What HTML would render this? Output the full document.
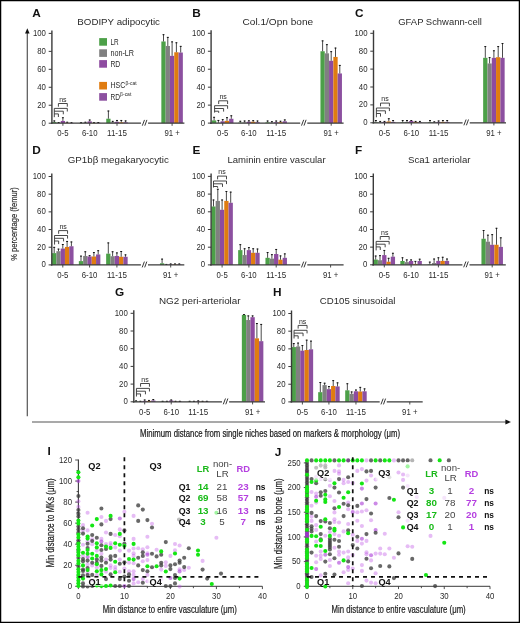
<!DOCTYPE html>
<html><head><meta charset="utf-8"><title>Figure</title>
<style>
html,body{margin:0;padding:0;background:#fff;}
body{width:520px;height:623px;overflow:hidden;}
svg{display:block;will-change:transform;}
text{font-family:"Liberation Sans", sans-serif;}
</style></head>
<body>
<svg width="520" height="623" viewBox="0 0 520 623">
<rect x="0" y="0" width="520" height="623" fill="#fff"/>
<text x="32.3" y="17" font-size="11.8" text-anchor="start" font-weight="bold" fill="#111">A</text>
<text x="77.3" y="25.2" font-size="9.3" text-anchor="start" font-weight="normal" fill="#2a2a2a" textLength="82.7" lengthAdjust="spacingAndGlyphs">BODIPY adipocytic</text>
<rect x="52.15" y="122.12" width="4.3" height="1.08" fill="#4ca048"/>
<line x1="54.3" y1="122.12" x2="54.3" y2="120.51" stroke="#2a2a2a" stroke-width="0.85"/>
<line x1="53.35" y1="120.91" x2="55.25" y2="120.91" stroke="#111" stroke-width="1"/>
<rect x="56.45" y="122.84" width="4.3" height="0.36" fill="#808080"/>
<line x1="58.6" y1="122.84" x2="58.6" y2="122.12" stroke="#2a2a2a" stroke-width="0.85"/>
<line x1="57.65" y1="122.52" x2="59.55" y2="122.52" stroke="#111" stroke-width="1"/>
<rect x="60.75" y="120.95" width="4.3" height="2.25" fill="#8e4ba0"/>
<line x1="62.9" y1="120.95" x2="62.9" y2="117.36" stroke="#2a2a2a" stroke-width="0.85"/>
<line x1="61.95" y1="117.76" x2="63.85" y2="117.76" stroke="#111" stroke-width="1"/>
<rect x="65.05" y="122.84" width="4.3" height="0.36" fill="#e07c10"/>
<line x1="67.2" y1="122.84" x2="67.2" y2="121.85" stroke="#2a2a2a" stroke-width="0.85"/>
<line x1="66.25" y1="122.25" x2="68.15" y2="122.25" stroke="#111" stroke-width="1"/>
<rect x="69.35" y="122.93" width="4.3" height="0.27" fill="#8c50a0"/>
<line x1="71.5" y1="122.93" x2="71.5" y2="122.3" stroke="#2a2a2a" stroke-width="0.85"/>
<line x1="70.55" y1="122.7" x2="72.45" y2="122.7" stroke="#111" stroke-width="1"/>
<rect x="78.95" y="122.93" width="4.3" height="0.27" fill="#4ca048"/>
<line x1="81.1" y1="122.93" x2="81.1" y2="122.3" stroke="#2a2a2a" stroke-width="0.85"/>
<line x1="80.15" y1="122.7" x2="82.05" y2="122.7" stroke="#111" stroke-width="1"/>
<rect x="83.25" y="122.66" width="4.3" height="0.54" fill="#808080"/>
<line x1="85.4" y1="122.66" x2="85.4" y2="121.85" stroke="#2a2a2a" stroke-width="0.85"/>
<line x1="84.45" y1="122.25" x2="86.35" y2="122.25" stroke="#111" stroke-width="1"/>
<rect x="87.55" y="121.4" width="4.3" height="1.8" fill="#8e4ba0"/>
<line x1="89.7" y1="121.4" x2="89.7" y2="119.61" stroke="#2a2a2a" stroke-width="0.85"/>
<line x1="88.75" y1="120.01" x2="90.65" y2="120.01" stroke="#111" stroke-width="1"/>
<rect x="91.85" y="122.93" width="4.3" height="0.27" fill="#e07c10"/>
<line x1="94" y1="122.93" x2="94" y2="122.3" stroke="#2a2a2a" stroke-width="0.85"/>
<line x1="93.05" y1="122.7" x2="94.95" y2="122.7" stroke="#111" stroke-width="1"/>
<rect x="96.15" y="122.84" width="4.3" height="0.36" fill="#8c50a0"/>
<line x1="98.3" y1="122.84" x2="98.3" y2="122.12" stroke="#2a2a2a" stroke-width="0.85"/>
<line x1="97.35" y1="122.52" x2="99.25" y2="122.52" stroke="#111" stroke-width="1"/>
<rect x="106.25" y="118.71" width="4.3" height="4.49" fill="#4ca048"/>
<line x1="108.4" y1="118.71" x2="108.4" y2="110.63" stroke="#2a2a2a" stroke-width="0.85"/>
<line x1="107.45" y1="111.03" x2="109.35" y2="111.03" stroke="#111" stroke-width="1"/>
<rect x="110.55" y="122.3" width="4.3" height="0.9" fill="#808080"/>
<line x1="112.7" y1="122.3" x2="112.7" y2="120.95" stroke="#2a2a2a" stroke-width="0.85"/>
<line x1="111.75" y1="121.36" x2="113.65" y2="121.36" stroke="#111" stroke-width="1"/>
<rect x="114.85" y="121.85" width="4.3" height="1.35" fill="#8e4ba0"/>
<line x1="117" y1="121.85" x2="117" y2="120.06" stroke="#2a2a2a" stroke-width="0.85"/>
<line x1="116.05" y1="120.46" x2="117.95" y2="120.46" stroke="#111" stroke-width="1"/>
<rect x="119.15" y="122.3" width="4.3" height="0.9" fill="#e07c10"/>
<line x1="121.3" y1="122.3" x2="121.3" y2="120.06" stroke="#2a2a2a" stroke-width="0.85"/>
<line x1="120.35" y1="120.46" x2="122.25" y2="120.46" stroke="#111" stroke-width="1"/>
<rect x="123.45" y="122.3" width="4.3" height="0.9" fill="#8c50a0"/>
<line x1="125.6" y1="122.3" x2="125.6" y2="120.51" stroke="#2a2a2a" stroke-width="0.85"/>
<line x1="124.65" y1="120.91" x2="126.55" y2="120.91" stroke="#111" stroke-width="1"/>
<rect x="161.35" y="41.48" width="4.3" height="81.72" fill="#4ca048"/>
<line x1="163.5" y1="41.48" x2="163.5" y2="34.3" stroke="#2a2a2a" stroke-width="0.85"/>
<line x1="162.55" y1="34.7" x2="164.45" y2="34.7" stroke="#111" stroke-width="1"/>
<rect x="165.65" y="45.97" width="4.3" height="77.23" fill="#808080"/>
<line x1="167.8" y1="45.97" x2="167.8" y2="36.99" stroke="#2a2a2a" stroke-width="0.85"/>
<line x1="166.85" y1="37.39" x2="168.75" y2="37.39" stroke="#111" stroke-width="1"/>
<rect x="169.95" y="55.85" width="4.3" height="67.35" fill="#8e4ba0"/>
<line x1="172.1" y1="55.85" x2="172.1" y2="41.48" stroke="#2a2a2a" stroke-width="0.85"/>
<line x1="171.15" y1="41.88" x2="173.05" y2="41.88" stroke="#111" stroke-width="1"/>
<rect x="174.25" y="52.26" width="4.3" height="70.94" fill="#e07c10"/>
<line x1="176.4" y1="52.26" x2="176.4" y2="42.38" stroke="#2a2a2a" stroke-width="0.85"/>
<line x1="175.45" y1="42.78" x2="177.35" y2="42.78" stroke="#111" stroke-width="1"/>
<rect x="178.55" y="52.53" width="4.3" height="70.67" fill="#8c50a0"/>
<line x1="180.7" y1="52.53" x2="180.7" y2="45.97" stroke="#2a2a2a" stroke-width="0.85"/>
<line x1="179.75" y1="46.37" x2="181.65" y2="46.37" stroke="#111" stroke-width="1"/>
<line x1="51.9" y1="30.4" x2="51.9" y2="123.8" stroke="#3a3a3a" stroke-width="1.4"/>
<line x1="48.7" y1="123.2" x2="51.9" y2="123.2" stroke="#3a3a3a" stroke-width="1"/>
<text x="45.9" y="125.7" font-size="8.3" text-anchor="end" font-weight="normal" fill="#2a2a2a" textLength="4.34" lengthAdjust="spacingAndGlyphs">0</text>
<line x1="48.7" y1="105.24" x2="51.9" y2="105.24" stroke="#3a3a3a" stroke-width="1"/>
<text x="45.9" y="107.74" font-size="8.3" text-anchor="end" font-weight="normal" fill="#2a2a2a" textLength="8.68" lengthAdjust="spacingAndGlyphs">20</text>
<line x1="48.7" y1="87.28" x2="51.9" y2="87.28" stroke="#3a3a3a" stroke-width="1"/>
<text x="45.9" y="89.78" font-size="8.3" text-anchor="end" font-weight="normal" fill="#2a2a2a" textLength="8.68" lengthAdjust="spacingAndGlyphs">40</text>
<line x1="48.7" y1="69.32" x2="51.9" y2="69.32" stroke="#3a3a3a" stroke-width="1"/>
<text x="45.9" y="71.82" font-size="8.3" text-anchor="end" font-weight="normal" fill="#2a2a2a" textLength="8.68" lengthAdjust="spacingAndGlyphs">60</text>
<line x1="48.7" y1="51.36" x2="51.9" y2="51.36" stroke="#3a3a3a" stroke-width="1"/>
<text x="45.9" y="53.86" font-size="8.3" text-anchor="end" font-weight="normal" fill="#2a2a2a" textLength="8.68" lengthAdjust="spacingAndGlyphs">80</text>
<line x1="48.7" y1="33.4" x2="51.9" y2="33.4" stroke="#3a3a3a" stroke-width="1"/>
<text x="45.9" y="35.9" font-size="8.3" text-anchor="end" font-weight="normal" fill="#2a2a2a" textLength="13.01" lengthAdjust="spacingAndGlyphs">100</text>
<line x1="50.9" y1="123.2" x2="141" y2="123.2" stroke="#3a3a3a" stroke-width="1.3"/>
<line x1="148.1" y1="123.2" x2="184.4" y2="123.2" stroke="#3a3a3a" stroke-width="1.3"/>
<path d="M142.3 125.7L144.5 119.9 M144.8 125.7L146.9 119.9" stroke="#222" stroke-width="0.9" fill="none"/>
<line x1="62.9" y1="123.2" x2="62.9" y2="125.8" stroke="#3a3a3a" stroke-width="0.9"/>
<text x="62.9" y="136.3" font-size="8.3" text-anchor="middle" font-weight="normal" fill="#2a2a2a" textLength="11.27" lengthAdjust="spacingAndGlyphs">0-5</text>
<line x1="89.7" y1="123.2" x2="89.7" y2="125.8" stroke="#3a3a3a" stroke-width="0.9"/>
<text x="89.7" y="136.3" font-size="8.3" text-anchor="middle" font-weight="normal" fill="#2a2a2a" textLength="15.61" lengthAdjust="spacingAndGlyphs">6-10</text>
<line x1="117" y1="123.2" x2="117" y2="125.8" stroke="#3a3a3a" stroke-width="0.9"/>
<text x="117" y="136.3" font-size="8.3" text-anchor="middle" font-weight="normal" fill="#2a2a2a" textLength="19.95" lengthAdjust="spacingAndGlyphs">11-15</text>
<line x1="172.1" y1="123.2" x2="172.1" y2="125.8" stroke="#3a3a3a" stroke-width="0.9"/>
<text x="172.1" y="136.3" font-size="8.3" text-anchor="middle" font-weight="normal" fill="#2a2a2a" textLength="15.4" lengthAdjust="spacingAndGlyphs">91 +</text>
<path d="M58.4 106.7L58.4 103.5L67.3 103.5L67.3 106.7" stroke="#333" stroke-width="0.9" fill="none"/>
<text x="62.85" y="101.8" font-size="7" text-anchor="middle" font-weight="normal" fill="#2a2a2a">ns</text>
<path d="M54.3 117.2L54.3 108.4" stroke="#333" stroke-width="0.9" fill="none"/>
<path d="M54.3 108.4L67.3 108.4L67.3 111.5" stroke="#333" stroke-width="0.9" fill="none"/>
<path d="M54.3 111.2L63.3 111.2L63.3 114.3" stroke="#333" stroke-width="0.9" fill="none"/>
<path d="M54.3 113.9L58.4 113.9L58.4 117" stroke="#333" stroke-width="0.9" fill="none"/>
<text x="192.2" y="16.8" font-size="11.8" text-anchor="start" font-weight="bold" fill="#111">B</text>
<text x="242.5" y="24.9" font-size="9.3" text-anchor="start" font-weight="normal" fill="#2a2a2a" textLength="70.6" lengthAdjust="spacingAndGlyphs">Col.1/Opn bone</text>
<rect x="211.95" y="120.41" width="4.3" height="2.69" fill="#4ca048"/>
<line x1="214.1" y1="120.41" x2="214.1" y2="116.9" stroke="#2a2a2a" stroke-width="0.85"/>
<line x1="213.15" y1="117.3" x2="215.05" y2="117.3" stroke="#111" stroke-width="1"/>
<rect x="216.25" y="122.83" width="4.3" height="0.27" fill="#808080"/>
<line x1="218.4" y1="122.83" x2="218.4" y2="120.05" stroke="#2a2a2a" stroke-width="0.85"/>
<line x1="217.45" y1="120.45" x2="219.35" y2="120.45" stroke="#111" stroke-width="1"/>
<rect x="220.55" y="121.3" width="4.3" height="1.8" fill="#8e4ba0"/>
<line x1="222.7" y1="121.3" x2="222.7" y2="119.24" stroke="#2a2a2a" stroke-width="0.85"/>
<line x1="221.75" y1="119.64" x2="223.65" y2="119.64" stroke="#111" stroke-width="1"/>
<rect x="224.85" y="120.85" width="4.3" height="2.25" fill="#e07c10"/>
<line x1="227" y1="120.85" x2="227" y2="117.26" stroke="#2a2a2a" stroke-width="0.85"/>
<line x1="226.05" y1="117.66" x2="227.95" y2="117.66" stroke="#111" stroke-width="1"/>
<rect x="229.15" y="118.79" width="4.3" height="4.31" fill="#8c50a0"/>
<line x1="231.3" y1="118.79" x2="231.3" y2="115.38" stroke="#2a2a2a" stroke-width="0.85"/>
<line x1="230.35" y1="115.78" x2="232.25" y2="115.78" stroke="#111" stroke-width="1"/>
<rect x="238.15" y="122.65" width="4.3" height="0.45" fill="#4ca048"/>
<line x1="240.3" y1="122.65" x2="240.3" y2="120.85" stroke="#2a2a2a" stroke-width="0.85"/>
<line x1="239.35" y1="121.25" x2="241.25" y2="121.25" stroke="#111" stroke-width="1"/>
<rect x="242.45" y="122.38" width="4.3" height="0.72" fill="#808080"/>
<line x1="244.6" y1="122.38" x2="244.6" y2="120.59" stroke="#2a2a2a" stroke-width="0.85"/>
<line x1="243.65" y1="120.99" x2="245.55" y2="120.99" stroke="#111" stroke-width="1"/>
<rect x="246.75" y="121.75" width="4.3" height="1.35" fill="#8e4ba0"/>
<line x1="248.9" y1="121.75" x2="248.9" y2="120.41" stroke="#2a2a2a" stroke-width="0.85"/>
<line x1="247.95" y1="120.81" x2="249.85" y2="120.81" stroke="#111" stroke-width="1"/>
<rect x="251.05" y="121.75" width="4.3" height="1.35" fill="#e07c10"/>
<line x1="253.2" y1="121.75" x2="253.2" y2="120.23" stroke="#2a2a2a" stroke-width="0.85"/>
<line x1="252.25" y1="120.63" x2="254.15" y2="120.63" stroke="#111" stroke-width="1"/>
<rect x="255.35" y="122.2" width="4.3" height="0.9" fill="#8c50a0"/>
<line x1="257.5" y1="122.2" x2="257.5" y2="120.59" stroke="#2a2a2a" stroke-width="0.85"/>
<line x1="256.55" y1="120.99" x2="258.45" y2="120.99" stroke="#111" stroke-width="1"/>
<rect x="265.45" y="122.38" width="4.3" height="0.72" fill="#4ca048"/>
<line x1="267.6" y1="122.38" x2="267.6" y2="120.59" stroke="#2a2a2a" stroke-width="0.85"/>
<line x1="266.65" y1="120.99" x2="268.55" y2="120.99" stroke="#111" stroke-width="1"/>
<rect x="269.75" y="122.65" width="4.3" height="0.45" fill="#808080"/>
<line x1="271.9" y1="122.65" x2="271.9" y2="121.3" stroke="#2a2a2a" stroke-width="0.85"/>
<line x1="270.95" y1="121.7" x2="272.85" y2="121.7" stroke="#111" stroke-width="1"/>
<rect x="274.05" y="122.2" width="4.3" height="0.9" fill="#8e4ba0"/>
<line x1="276.2" y1="122.2" x2="276.2" y2="120.59" stroke="#2a2a2a" stroke-width="0.85"/>
<line x1="275.25" y1="120.99" x2="277.15" y2="120.99" stroke="#111" stroke-width="1"/>
<rect x="278.35" y="122.2" width="4.3" height="0.9" fill="#e07c10"/>
<line x1="280.5" y1="122.2" x2="280.5" y2="120.85" stroke="#2a2a2a" stroke-width="0.85"/>
<line x1="279.55" y1="121.25" x2="281.45" y2="121.25" stroke="#111" stroke-width="1"/>
<rect x="282.65" y="121.3" width="4.3" height="1.8" fill="#8c50a0"/>
<line x1="284.8" y1="121.3" x2="284.8" y2="119.51" stroke="#2a2a2a" stroke-width="0.85"/>
<line x1="283.85" y1="119.91" x2="285.75" y2="119.91" stroke="#111" stroke-width="1"/>
<rect x="320.45" y="51.26" width="4.3" height="71.84" fill="#4ca048"/>
<line x1="322.6" y1="51.26" x2="322.6" y2="40.48" stroke="#2a2a2a" stroke-width="0.85"/>
<line x1="321.65" y1="40.88" x2="323.55" y2="40.88" stroke="#111" stroke-width="1"/>
<rect x="324.75" y="53.33" width="4.3" height="69.77" fill="#808080"/>
<line x1="326.9" y1="53.33" x2="326.9" y2="44.26" stroke="#2a2a2a" stroke-width="0.85"/>
<line x1="325.95" y1="44.66" x2="327.85" y2="44.66" stroke="#111" stroke-width="1"/>
<rect x="329.05" y="60.78" width="4.3" height="62.32" fill="#8e4ba0"/>
<line x1="331.2" y1="60.78" x2="331.2" y2="51.26" stroke="#2a2a2a" stroke-width="0.85"/>
<line x1="330.25" y1="51.66" x2="332.15" y2="51.66" stroke="#111" stroke-width="1"/>
<rect x="333.35" y="56.92" width="4.3" height="66.18" fill="#e07c10"/>
<line x1="335.5" y1="56.92" x2="335.5" y2="47.67" stroke="#2a2a2a" stroke-width="0.85"/>
<line x1="334.55" y1="48.07" x2="336.45" y2="48.07" stroke="#111" stroke-width="1"/>
<rect x="337.65" y="73.44" width="4.3" height="49.66" fill="#8c50a0"/>
<line x1="339.8" y1="73.44" x2="339.8" y2="65" stroke="#2a2a2a" stroke-width="0.85"/>
<line x1="338.85" y1="65.4" x2="340.75" y2="65.4" stroke="#111" stroke-width="1"/>
<line x1="211.1" y1="30.3" x2="211.1" y2="123.7" stroke="#3a3a3a" stroke-width="1.4"/>
<line x1="207.9" y1="123.1" x2="211.1" y2="123.1" stroke="#3a3a3a" stroke-width="1"/>
<text x="205.1" y="125.6" font-size="8.3" text-anchor="end" font-weight="normal" fill="#2a2a2a" textLength="4.34" lengthAdjust="spacingAndGlyphs">0</text>
<line x1="207.9" y1="105.14" x2="211.1" y2="105.14" stroke="#3a3a3a" stroke-width="1"/>
<text x="205.1" y="107.64" font-size="8.3" text-anchor="end" font-weight="normal" fill="#2a2a2a" textLength="8.68" lengthAdjust="spacingAndGlyphs">20</text>
<line x1="207.9" y1="87.18" x2="211.1" y2="87.18" stroke="#3a3a3a" stroke-width="1"/>
<text x="205.1" y="89.68" font-size="8.3" text-anchor="end" font-weight="normal" fill="#2a2a2a" textLength="8.68" lengthAdjust="spacingAndGlyphs">40</text>
<line x1="207.9" y1="69.22" x2="211.1" y2="69.22" stroke="#3a3a3a" stroke-width="1"/>
<text x="205.1" y="71.72" font-size="8.3" text-anchor="end" font-weight="normal" fill="#2a2a2a" textLength="8.68" lengthAdjust="spacingAndGlyphs">60</text>
<line x1="207.9" y1="51.26" x2="211.1" y2="51.26" stroke="#3a3a3a" stroke-width="1"/>
<text x="205.1" y="53.76" font-size="8.3" text-anchor="end" font-weight="normal" fill="#2a2a2a" textLength="8.68" lengthAdjust="spacingAndGlyphs">80</text>
<line x1="207.9" y1="33.3" x2="211.1" y2="33.3" stroke="#3a3a3a" stroke-width="1"/>
<text x="205.1" y="35.8" font-size="8.3" text-anchor="end" font-weight="normal" fill="#2a2a2a" textLength="13.01" lengthAdjust="spacingAndGlyphs">100</text>
<line x1="210.1" y1="123.1" x2="300.2" y2="123.1" stroke="#3a3a3a" stroke-width="1.3"/>
<line x1="307.3" y1="123.1" x2="343.6" y2="123.1" stroke="#3a3a3a" stroke-width="1.3"/>
<path d="M301.5 125.6L303.7 119.8 M304 125.6L306.1 119.8" stroke="#222" stroke-width="0.9" fill="none"/>
<line x1="222.7" y1="123.1" x2="222.7" y2="125.7" stroke="#3a3a3a" stroke-width="0.9"/>
<text x="222.7" y="136.2" font-size="8.3" text-anchor="middle" font-weight="normal" fill="#2a2a2a" textLength="11.27" lengthAdjust="spacingAndGlyphs">0-5</text>
<line x1="248.9" y1="123.1" x2="248.9" y2="125.7" stroke="#3a3a3a" stroke-width="0.9"/>
<text x="248.9" y="136.2" font-size="8.3" text-anchor="middle" font-weight="normal" fill="#2a2a2a" textLength="15.61" lengthAdjust="spacingAndGlyphs">6-10</text>
<line x1="276.2" y1="123.1" x2="276.2" y2="125.7" stroke="#3a3a3a" stroke-width="0.9"/>
<text x="276.2" y="136.2" font-size="8.3" text-anchor="middle" font-weight="normal" fill="#2a2a2a" textLength="19.95" lengthAdjust="spacingAndGlyphs">11-15</text>
<line x1="331.2" y1="123.1" x2="331.2" y2="125.7" stroke="#3a3a3a" stroke-width="0.9"/>
<text x="331.2" y="136.2" font-size="8.3" text-anchor="middle" font-weight="normal" fill="#2a2a2a" textLength="15.4" lengthAdjust="spacingAndGlyphs">91 +</text>
<path d="M218.7 104L218.7 100.8L227.6 100.8L227.6 104" stroke="#333" stroke-width="0.9" fill="none"/>
<text x="223.15" y="99.1" font-size="7" text-anchor="middle" font-weight="normal" fill="#2a2a2a">ns</text>
<path d="M214.6 112.6L214.6 105.7" stroke="#333" stroke-width="0.9" fill="none"/>
<path d="M214.6 105.7L227.6 105.7L227.6 108.8" stroke="#333" stroke-width="0.9" fill="none"/>
<path d="M214.6 108.5L223.6 108.5L223.6 111.6" stroke="#333" stroke-width="0.9" fill="none"/>
<path d="M214.6 111.2L218.7 111.2L218.7 112.9" stroke="#333" stroke-width="0.9" fill="none"/>
<text x="355" y="17" font-size="11.8" text-anchor="start" font-weight="bold" fill="#111">C</text>
<text x="398.3" y="24.9" font-size="9.3" text-anchor="start" font-weight="normal" fill="#2a2a2a" textLength="83.6" lengthAdjust="spacingAndGlyphs">GFAP Schwann-cell</text>
<rect x="373.75" y="122.35" width="4.3" height="0.45" fill="#4ca048"/>
<line x1="375.9" y1="122.35" x2="375.9" y2="120.11" stroke="#2a2a2a" stroke-width="0.85"/>
<line x1="374.95" y1="120.52" x2="376.85" y2="120.52" stroke="#111" stroke-width="1"/>
<rect x="378.05" y="122.53" width="4.3" height="0.27" fill="#808080"/>
<line x1="380.2" y1="122.53" x2="380.2" y2="121.01" stroke="#2a2a2a" stroke-width="0.85"/>
<line x1="379.25" y1="121.41" x2="381.15" y2="121.41" stroke="#111" stroke-width="1"/>
<rect x="382.35" y="121.91" width="4.3" height="0.9" fill="#8e4ba0"/>
<line x1="384.5" y1="121.91" x2="384.5" y2="121.01" stroke="#2a2a2a" stroke-width="0.85"/>
<line x1="383.55" y1="121.41" x2="385.45" y2="121.41" stroke="#111" stroke-width="1"/>
<rect x="386.65" y="121.46" width="4.3" height="1.34" fill="#e07c10"/>
<line x1="388.8" y1="121.46" x2="388.8" y2="118.33" stroke="#2a2a2a" stroke-width="0.85"/>
<line x1="387.85" y1="118.73" x2="389.75" y2="118.73" stroke="#111" stroke-width="1"/>
<rect x="390.95" y="121.91" width="4.3" height="0.9" fill="#8c50a0"/>
<line x1="393.1" y1="121.91" x2="393.1" y2="120.11" stroke="#2a2a2a" stroke-width="0.85"/>
<line x1="392.15" y1="120.52" x2="394.05" y2="120.52" stroke="#111" stroke-width="1"/>
<rect x="400.55" y="122.35" width="4.3" height="0.45" fill="#4ca048"/>
<line x1="402.7" y1="122.35" x2="402.7" y2="120.11" stroke="#2a2a2a" stroke-width="0.85"/>
<line x1="401.75" y1="120.52" x2="403.65" y2="120.52" stroke="#111" stroke-width="1"/>
<rect x="404.85" y="121.91" width="4.3" height="0.9" fill="#808080"/>
<line x1="407" y1="121.91" x2="407" y2="120.11" stroke="#2a2a2a" stroke-width="0.85"/>
<line x1="406.05" y1="120.52" x2="407.95" y2="120.52" stroke="#111" stroke-width="1"/>
<rect x="409.15" y="121.01" width="4.3" height="1.79" fill="#8e4ba0"/>
<line x1="411.3" y1="121.01" x2="411.3" y2="120.11" stroke="#2a2a2a" stroke-width="0.85"/>
<line x1="410.35" y1="120.52" x2="412.25" y2="120.52" stroke="#111" stroke-width="1"/>
<rect x="413.45" y="121.91" width="4.3" height="0.9" fill="#e07c10"/>
<line x1="415.6" y1="121.91" x2="415.6" y2="121.01" stroke="#2a2a2a" stroke-width="0.85"/>
<line x1="414.65" y1="121.41" x2="416.55" y2="121.41" stroke="#111" stroke-width="1"/>
<rect x="417.75" y="122.35" width="4.3" height="0.45" fill="#8c50a0"/>
<line x1="419.9" y1="122.35" x2="419.9" y2="121.01" stroke="#2a2a2a" stroke-width="0.85"/>
<line x1="418.95" y1="121.41" x2="420.85" y2="121.41" stroke="#111" stroke-width="1"/>
<rect x="427.85" y="122.35" width="4.3" height="0.45" fill="#4ca048"/>
<line x1="430" y1="122.35" x2="430" y2="120.11" stroke="#2a2a2a" stroke-width="0.85"/>
<line x1="429.05" y1="120.52" x2="430.95" y2="120.52" stroke="#111" stroke-width="1"/>
<rect x="432.15" y="122.35" width="4.3" height="0.45" fill="#808080"/>
<line x1="434.3" y1="122.35" x2="434.3" y2="121.46" stroke="#2a2a2a" stroke-width="0.85"/>
<line x1="433.35" y1="121.86" x2="435.25" y2="121.86" stroke="#111" stroke-width="1"/>
<rect x="436.45" y="121.91" width="4.3" height="0.9" fill="#8e4ba0"/>
<line x1="438.6" y1="121.91" x2="438.6" y2="120.56" stroke="#2a2a2a" stroke-width="0.85"/>
<line x1="437.65" y1="120.96" x2="439.55" y2="120.96" stroke="#111" stroke-width="1"/>
<rect x="440.75" y="121.91" width="4.3" height="0.9" fill="#e07c10"/>
<line x1="442.9" y1="121.91" x2="442.9" y2="120.11" stroke="#2a2a2a" stroke-width="0.85"/>
<line x1="441.95" y1="120.52" x2="443.85" y2="120.52" stroke="#111" stroke-width="1"/>
<rect x="445.05" y="121.91" width="4.3" height="0.9" fill="#8c50a0"/>
<line x1="447.2" y1="121.91" x2="447.2" y2="120.11" stroke="#2a2a2a" stroke-width="0.85"/>
<line x1="446.25" y1="120.52" x2="448.15" y2="120.52" stroke="#111" stroke-width="1"/>
<rect x="483.15" y="57.82" width="4.3" height="64.98" fill="#4ca048"/>
<line x1="485.3" y1="57.82" x2="485.3" y2="46.19" stroke="#2a2a2a" stroke-width="0.85"/>
<line x1="484.35" y1="46.59" x2="486.25" y2="46.59" stroke="#111" stroke-width="1"/>
<rect x="487.45" y="63.46" width="4.3" height="59.34" fill="#808080"/>
<line x1="489.6" y1="63.46" x2="489.6" y2="57.2" stroke="#2a2a2a" stroke-width="0.85"/>
<line x1="488.65" y1="57.6" x2="490.55" y2="57.6" stroke="#111" stroke-width="1"/>
<rect x="491.75" y="57.82" width="4.3" height="64.98" fill="#8e4ba0"/>
<line x1="493.9" y1="57.82" x2="493.9" y2="50.39" stroke="#2a2a2a" stroke-width="0.85"/>
<line x1="492.95" y1="50.79" x2="494.85" y2="50.79" stroke="#111" stroke-width="1"/>
<rect x="496.05" y="57.2" width="4.3" height="65.6" fill="#e07c10"/>
<line x1="498.2" y1="57.2" x2="498.2" y2="46.19" stroke="#2a2a2a" stroke-width="0.85"/>
<line x1="497.25" y1="46.59" x2="499.15" y2="46.59" stroke="#111" stroke-width="1"/>
<rect x="500.35" y="57.82" width="4.3" height="64.98" fill="#8c50a0"/>
<line x1="502.5" y1="57.82" x2="502.5" y2="43.14" stroke="#2a2a2a" stroke-width="0.85"/>
<line x1="501.55" y1="43.54" x2="503.45" y2="43.54" stroke="#111" stroke-width="1"/>
<line x1="373.5" y1="30.3" x2="373.5" y2="123.4" stroke="#3a3a3a" stroke-width="1.4"/>
<line x1="370.3" y1="122.8" x2="373.5" y2="122.8" stroke="#3a3a3a" stroke-width="1"/>
<text x="367.5" y="125.3" font-size="8.3" text-anchor="end" font-weight="normal" fill="#2a2a2a" textLength="4.34" lengthAdjust="spacingAndGlyphs">0</text>
<line x1="370.3" y1="104.9" x2="373.5" y2="104.9" stroke="#3a3a3a" stroke-width="1"/>
<text x="367.5" y="107.4" font-size="8.3" text-anchor="end" font-weight="normal" fill="#2a2a2a" textLength="8.68" lengthAdjust="spacingAndGlyphs">20</text>
<line x1="370.3" y1="87" x2="373.5" y2="87" stroke="#3a3a3a" stroke-width="1"/>
<text x="367.5" y="89.5" font-size="8.3" text-anchor="end" font-weight="normal" fill="#2a2a2a" textLength="8.68" lengthAdjust="spacingAndGlyphs">40</text>
<line x1="370.3" y1="69.1" x2="373.5" y2="69.1" stroke="#3a3a3a" stroke-width="1"/>
<text x="367.5" y="71.6" font-size="8.3" text-anchor="end" font-weight="normal" fill="#2a2a2a" textLength="8.68" lengthAdjust="spacingAndGlyphs">60</text>
<line x1="370.3" y1="51.2" x2="373.5" y2="51.2" stroke="#3a3a3a" stroke-width="1"/>
<text x="367.5" y="53.7" font-size="8.3" text-anchor="end" font-weight="normal" fill="#2a2a2a" textLength="8.68" lengthAdjust="spacingAndGlyphs">80</text>
<line x1="370.3" y1="33.3" x2="373.5" y2="33.3" stroke="#3a3a3a" stroke-width="1"/>
<text x="367.5" y="35.8" font-size="8.3" text-anchor="end" font-weight="normal" fill="#2a2a2a" textLength="13.01" lengthAdjust="spacingAndGlyphs">100</text>
<line x1="372.5" y1="122.8" x2="462.6" y2="122.8" stroke="#3a3a3a" stroke-width="1.3"/>
<line x1="469.7" y1="122.8" x2="506" y2="122.8" stroke="#3a3a3a" stroke-width="1.3"/>
<path d="M463.9 125.3L466.1 119.5 M466.4 125.3L468.5 119.5" stroke="#222" stroke-width="0.9" fill="none"/>
<line x1="384.5" y1="122.8" x2="384.5" y2="125.4" stroke="#3a3a3a" stroke-width="0.9"/>
<text x="384.5" y="135.9" font-size="8.3" text-anchor="middle" font-weight="normal" fill="#2a2a2a" textLength="11.27" lengthAdjust="spacingAndGlyphs">0-5</text>
<line x1="411.3" y1="122.8" x2="411.3" y2="125.4" stroke="#3a3a3a" stroke-width="0.9"/>
<text x="411.3" y="135.9" font-size="8.3" text-anchor="middle" font-weight="normal" fill="#2a2a2a" textLength="15.61" lengthAdjust="spacingAndGlyphs">6-10</text>
<line x1="438.6" y1="122.8" x2="438.6" y2="125.4" stroke="#3a3a3a" stroke-width="0.9"/>
<text x="438.6" y="135.9" font-size="8.3" text-anchor="middle" font-weight="normal" fill="#2a2a2a" textLength="19.95" lengthAdjust="spacingAndGlyphs">11-15</text>
<line x1="493.9" y1="122.8" x2="493.9" y2="125.4" stroke="#3a3a3a" stroke-width="0.9"/>
<text x="493.9" y="135.9" font-size="8.3" text-anchor="middle" font-weight="normal" fill="#2a2a2a" textLength="15.4" lengthAdjust="spacingAndGlyphs">91 +</text>
<path d="M380.5 106.3L380.5 103.1L389.4 103.1L389.4 106.3" stroke="#333" stroke-width="0.9" fill="none"/>
<text x="384.95" y="101.4" font-size="7" text-anchor="middle" font-weight="normal" fill="#2a2a2a">ns</text>
<path d="M376.4 117.3L376.4 108" stroke="#333" stroke-width="0.9" fill="none"/>
<path d="M376.4 108L389.4 108L389.4 111.1" stroke="#333" stroke-width="0.9" fill="none"/>
<path d="M376.4 110.8L385.4 110.8L385.4 113.9" stroke="#333" stroke-width="0.9" fill="none"/>
<path d="M376.4 113.5L380.5 113.5L380.5 116.6" stroke="#333" stroke-width="0.9" fill="none"/>
<text x="32.3" y="153.6" font-size="11.8" text-anchor="start" font-weight="bold" fill="#111">D</text>
<text x="67.7" y="162.8" font-size="9.3" text-anchor="start" font-weight="normal" fill="#2a2a2a" textLength="101.1" lengthAdjust="spacingAndGlyphs">GP1b&#946; megakaryocytic</text>
<rect x="52.05" y="253.14" width="4.3" height="11.76" fill="#4ca048"/>
<line x1="54.2" y1="253.14" x2="54.2" y2="246.95" stroke="#2a2a2a" stroke-width="0.85"/>
<line x1="53.25" y1="247.35" x2="55.15" y2="247.35" stroke="#111" stroke-width="1"/>
<rect x="56.35" y="251.2" width="4.3" height="13.7" fill="#808080"/>
<line x1="58.5" y1="251.2" x2="58.5" y2="248.72" stroke="#2a2a2a" stroke-width="0.85"/>
<line x1="57.55" y1="249.12" x2="59.45" y2="249.12" stroke="#111" stroke-width="1"/>
<rect x="60.65" y="248.55" width="4.3" height="16.35" fill="#8e4ba0"/>
<line x1="62.8" y1="248.55" x2="62.8" y2="244.13" stroke="#2a2a2a" stroke-width="0.85"/>
<line x1="61.85" y1="244.53" x2="63.75" y2="244.53" stroke="#111" stroke-width="1"/>
<rect x="64.95" y="246.95" width="4.3" height="17.95" fill="#e07c10"/>
<line x1="67.1" y1="246.95" x2="67.1" y2="241.03" stroke="#2a2a2a" stroke-width="0.85"/>
<line x1="66.15" y1="241.43" x2="68.05" y2="241.43" stroke="#111" stroke-width="1"/>
<rect x="69.25" y="246.25" width="4.3" height="18.65" fill="#8c50a0"/>
<line x1="71.4" y1="246.25" x2="71.4" y2="241.56" stroke="#2a2a2a" stroke-width="0.85"/>
<line x1="70.45" y1="241.96" x2="72.35" y2="241.96" stroke="#111" stroke-width="1"/>
<rect x="78.85" y="261.1" width="4.3" height="3.8" fill="#4ca048"/>
<line x1="81" y1="261.1" x2="81" y2="255.71" stroke="#2a2a2a" stroke-width="0.85"/>
<line x1="80.05" y1="256.11" x2="81.95" y2="256.11" stroke="#111" stroke-width="1"/>
<rect x="83.15" y="255.97" width="4.3" height="8.93" fill="#808080"/>
<line x1="85.3" y1="255.97" x2="85.3" y2="251.37" stroke="#2a2a2a" stroke-width="0.85"/>
<line x1="84.35" y1="251.77" x2="86.25" y2="251.77" stroke="#111" stroke-width="1"/>
<rect x="87.45" y="256.5" width="4.3" height="8.4" fill="#8e4ba0"/>
<line x1="89.6" y1="256.5" x2="89.6" y2="255.26" stroke="#2a2a2a" stroke-width="0.85"/>
<line x1="88.65" y1="255.66" x2="90.55" y2="255.66" stroke="#111" stroke-width="1"/>
<rect x="91.75" y="256.5" width="4.3" height="8.4" fill="#e07c10"/>
<line x1="93.9" y1="256.5" x2="93.9" y2="252.17" stroke="#2a2a2a" stroke-width="0.85"/>
<line x1="92.95" y1="252.57" x2="94.85" y2="252.57" stroke="#111" stroke-width="1"/>
<rect x="96.05" y="254.47" width="4.3" height="10.43" fill="#8c50a0"/>
<line x1="98.2" y1="254.47" x2="98.2" y2="250.31" stroke="#2a2a2a" stroke-width="0.85"/>
<line x1="97.25" y1="250.71" x2="99.15" y2="250.71" stroke="#111" stroke-width="1"/>
<rect x="106.15" y="253.67" width="4.3" height="11.23" fill="#4ca048"/>
<line x1="108.3" y1="253.67" x2="108.3" y2="242.53" stroke="#2a2a2a" stroke-width="0.85"/>
<line x1="107.35" y1="242.93" x2="109.25" y2="242.93" stroke="#111" stroke-width="1"/>
<rect x="110.45" y="256.24" width="4.3" height="8.66" fill="#808080"/>
<line x1="112.6" y1="256.24" x2="112.6" y2="251.37" stroke="#2a2a2a" stroke-width="0.85"/>
<line x1="111.65" y1="251.77" x2="113.55" y2="251.77" stroke="#111" stroke-width="1"/>
<rect x="114.75" y="255.97" width="4.3" height="8.93" fill="#8e4ba0"/>
<line x1="116.9" y1="255.97" x2="116.9" y2="252.52" stroke="#2a2a2a" stroke-width="0.85"/>
<line x1="115.95" y1="252.92" x2="117.85" y2="252.92" stroke="#111" stroke-width="1"/>
<rect x="119.05" y="256.77" width="4.3" height="8.13" fill="#e07c10"/>
<line x1="121.2" y1="256.77" x2="121.2" y2="251.11" stroke="#2a2a2a" stroke-width="0.85"/>
<line x1="120.25" y1="251.51" x2="122.15" y2="251.51" stroke="#111" stroke-width="1"/>
<rect x="123.35" y="256.77" width="4.3" height="8.13" fill="#8c50a0"/>
<line x1="125.5" y1="256.77" x2="125.5" y2="254.47" stroke="#2a2a2a" stroke-width="0.85"/>
<line x1="124.55" y1="254.87" x2="126.45" y2="254.87" stroke="#111" stroke-width="1"/>
<rect x="159.95" y="263.31" width="4.3" height="1.59" fill="#4ca048"/>
<line x1="162.1" y1="263.31" x2="162.1" y2="258.71" stroke="#2a2a2a" stroke-width="0.85"/>
<line x1="161.15" y1="259.11" x2="163.05" y2="259.11" stroke="#111" stroke-width="1"/>
<line x1="166.4" y1="264.9" x2="166.4" y2="264.02" stroke="#2a2a2a" stroke-width="0.85"/>
<line x1="165.45" y1="264.42" x2="167.35" y2="264.42" stroke="#111" stroke-width="1"/>
<rect x="168.55" y="264.46" width="4.3" height="0.44" fill="#8e4ba0"/>
<line x1="170.7" y1="264.46" x2="170.7" y2="263.57" stroke="#2a2a2a" stroke-width="0.85"/>
<line x1="169.75" y1="263.97" x2="171.65" y2="263.97" stroke="#111" stroke-width="1"/>
<rect x="172.85" y="264.46" width="4.3" height="0.44" fill="#e07c10"/>
<line x1="175" y1="264.46" x2="175" y2="263.57" stroke="#2a2a2a" stroke-width="0.85"/>
<line x1="174.05" y1="263.97" x2="175.95" y2="263.97" stroke="#111" stroke-width="1"/>
<rect x="177.15" y="264.46" width="4.3" height="0.44" fill="#8c50a0"/>
<line x1="179.3" y1="264.46" x2="179.3" y2="263.57" stroke="#2a2a2a" stroke-width="0.85"/>
<line x1="178.35" y1="263.97" x2="180.25" y2="263.97" stroke="#111" stroke-width="1"/>
<line x1="51.8" y1="173.5" x2="51.8" y2="265.5" stroke="#3a3a3a" stroke-width="1.4"/>
<line x1="48.6" y1="264.9" x2="51.8" y2="264.9" stroke="#3a3a3a" stroke-width="1"/>
<text x="45.8" y="267.4" font-size="8.3" text-anchor="end" font-weight="normal" fill="#2a2a2a" textLength="4.34" lengthAdjust="spacingAndGlyphs">0</text>
<line x1="48.6" y1="247.22" x2="51.8" y2="247.22" stroke="#3a3a3a" stroke-width="1"/>
<text x="45.8" y="249.72" font-size="8.3" text-anchor="end" font-weight="normal" fill="#2a2a2a" textLength="8.68" lengthAdjust="spacingAndGlyphs">20</text>
<line x1="48.6" y1="229.54" x2="51.8" y2="229.54" stroke="#3a3a3a" stroke-width="1"/>
<text x="45.8" y="232.04" font-size="8.3" text-anchor="end" font-weight="normal" fill="#2a2a2a" textLength="8.68" lengthAdjust="spacingAndGlyphs">40</text>
<line x1="48.6" y1="211.86" x2="51.8" y2="211.86" stroke="#3a3a3a" stroke-width="1"/>
<text x="45.8" y="214.36" font-size="8.3" text-anchor="end" font-weight="normal" fill="#2a2a2a" textLength="8.68" lengthAdjust="spacingAndGlyphs">60</text>
<line x1="48.6" y1="194.18" x2="51.8" y2="194.18" stroke="#3a3a3a" stroke-width="1"/>
<text x="45.8" y="196.68" font-size="8.3" text-anchor="end" font-weight="normal" fill="#2a2a2a" textLength="8.68" lengthAdjust="spacingAndGlyphs">80</text>
<line x1="48.6" y1="176.5" x2="51.8" y2="176.5" stroke="#3a3a3a" stroke-width="1"/>
<text x="45.8" y="179" font-size="8.3" text-anchor="end" font-weight="normal" fill="#2a2a2a" textLength="13.01" lengthAdjust="spacingAndGlyphs">100</text>
<line x1="50.8" y1="264.9" x2="140.9" y2="264.9" stroke="#3a3a3a" stroke-width="1.3"/>
<line x1="148" y1="264.9" x2="184.3" y2="264.9" stroke="#3a3a3a" stroke-width="1.3"/>
<path d="M142.2 267.4L144.4 261.6 M144.7 267.4L146.8 261.6" stroke="#222" stroke-width="0.9" fill="none"/>
<line x1="62.8" y1="264.9" x2="62.8" y2="267.5" stroke="#3a3a3a" stroke-width="0.9"/>
<text x="62.8" y="278" font-size="8.3" text-anchor="middle" font-weight="normal" fill="#2a2a2a" textLength="11.27" lengthAdjust="spacingAndGlyphs">0-5</text>
<line x1="89.6" y1="264.9" x2="89.6" y2="267.5" stroke="#3a3a3a" stroke-width="0.9"/>
<text x="89.6" y="278" font-size="8.3" text-anchor="middle" font-weight="normal" fill="#2a2a2a" textLength="15.61" lengthAdjust="spacingAndGlyphs">6-10</text>
<line x1="116.9" y1="264.9" x2="116.9" y2="267.5" stroke="#3a3a3a" stroke-width="0.9"/>
<text x="116.9" y="278" font-size="8.3" text-anchor="middle" font-weight="normal" fill="#2a2a2a" textLength="19.95" lengthAdjust="spacingAndGlyphs">11-15</text>
<line x1="170.7" y1="264.9" x2="170.7" y2="267.5" stroke="#3a3a3a" stroke-width="0.9"/>
<text x="170.7" y="278" font-size="8.3" text-anchor="middle" font-weight="normal" fill="#2a2a2a" textLength="15.4" lengthAdjust="spacingAndGlyphs">91 +</text>
<path d="M58.65 233.8L58.65 230.6L67.55 230.6L67.55 233.8" stroke="#333" stroke-width="0.9" fill="none"/>
<text x="63.1" y="228.9" font-size="7" text-anchor="middle" font-weight="normal" fill="#2a2a2a">ns</text>
<path d="M54.55 244.6L54.55 235.5" stroke="#333" stroke-width="0.9" fill="none"/>
<path d="M54.55 235.5L67.55 235.5L67.55 238.6" stroke="#333" stroke-width="0.9" fill="none"/>
<path d="M54.55 238.3L63.55 238.3L63.55 241.4" stroke="#333" stroke-width="0.9" fill="none"/>
<path d="M54.55 241L58.65 241L58.65 244.1" stroke="#333" stroke-width="0.9" fill="none"/>
<text x="192.6" y="153.8" font-size="11.8" text-anchor="start" font-weight="bold" fill="#111">E</text>
<text x="227.5" y="162.6" font-size="9.3" text-anchor="start" font-weight="normal" fill="#2a2a2a" textLength="98.1" lengthAdjust="spacingAndGlyphs">Laminin entire vascular</text>
<rect x="211.35" y="206.49" width="4.3" height="58.41" fill="#4ca048"/>
<line x1="213.5" y1="206.49" x2="213.5" y2="199.59" stroke="#2a2a2a" stroke-width="0.85"/>
<line x1="212.55" y1="199.99" x2="214.45" y2="199.99" stroke="#111" stroke-width="1"/>
<rect x="215.65" y="200.91" width="4.3" height="63.99" fill="#808080"/>
<line x1="217.8" y1="200.91" x2="217.8" y2="188.88" stroke="#2a2a2a" stroke-width="0.85"/>
<line x1="216.85" y1="189.28" x2="218.75" y2="189.28" stroke="#111" stroke-width="1"/>
<rect x="219.95" y="209.76" width="4.3" height="55.14" fill="#8e4ba0"/>
<line x1="222.1" y1="209.76" x2="222.1" y2="199.59" stroke="#2a2a2a" stroke-width="0.85"/>
<line x1="221.15" y1="199.99" x2="223.05" y2="199.99" stroke="#111" stroke-width="1"/>
<rect x="224.25" y="200.91" width="4.3" height="63.99" fill="#e07c10"/>
<line x1="226.4" y1="200.91" x2="226.4" y2="191.09" stroke="#2a2a2a" stroke-width="0.85"/>
<line x1="225.45" y1="191.49" x2="227.35" y2="191.49" stroke="#111" stroke-width="1"/>
<rect x="228.55" y="202.77" width="4.3" height="62.13" fill="#8c50a0"/>
<line x1="230.7" y1="202.77" x2="230.7" y2="191.71" stroke="#2a2a2a" stroke-width="0.85"/>
<line x1="229.75" y1="192.11" x2="231.65" y2="192.11" stroke="#111" stroke-width="1"/>
<rect x="238.15" y="250.12" width="4.3" height="14.78" fill="#4ca048"/>
<line x1="240.3" y1="250.12" x2="240.3" y2="244.28" stroke="#2a2a2a" stroke-width="0.85"/>
<line x1="239.35" y1="244.68" x2="241.25" y2="244.68" stroke="#111" stroke-width="1"/>
<rect x="242.45" y="255.08" width="4.3" height="9.82" fill="#808080"/>
<line x1="244.6" y1="255.08" x2="244.6" y2="248.35" stroke="#2a2a2a" stroke-width="0.85"/>
<line x1="243.65" y1="248.75" x2="245.55" y2="248.75" stroke="#111" stroke-width="1"/>
<rect x="246.75" y="250.12" width="4.3" height="14.78" fill="#8e4ba0"/>
<line x1="248.9" y1="250.12" x2="248.9" y2="247.2" stroke="#2a2a2a" stroke-width="0.85"/>
<line x1="247.95" y1="247.6" x2="249.85" y2="247.6" stroke="#111" stroke-width="1"/>
<rect x="251.05" y="252.78" width="4.3" height="12.12" fill="#e07c10"/>
<line x1="253.2" y1="252.78" x2="253.2" y2="248.35" stroke="#2a2a2a" stroke-width="0.85"/>
<line x1="252.25" y1="248.75" x2="254.15" y2="248.75" stroke="#111" stroke-width="1"/>
<rect x="255.35" y="252.78" width="4.3" height="12.12" fill="#8c50a0"/>
<line x1="257.5" y1="252.78" x2="257.5" y2="248.62" stroke="#2a2a2a" stroke-width="0.85"/>
<line x1="256.55" y1="249.02" x2="258.45" y2="249.02" stroke="#111" stroke-width="1"/>
<rect x="265.45" y="257.82" width="4.3" height="7.08" fill="#4ca048"/>
<line x1="267.6" y1="257.82" x2="267.6" y2="252.16" stroke="#2a2a2a" stroke-width="0.85"/>
<line x1="266.65" y1="252.56" x2="268.55" y2="252.56" stroke="#111" stroke-width="1"/>
<rect x="269.75" y="258.62" width="4.3" height="6.28" fill="#808080"/>
<line x1="271.9" y1="258.62" x2="271.9" y2="254.28" stroke="#2a2a2a" stroke-width="0.85"/>
<line x1="270.95" y1="254.68" x2="272.85" y2="254.68" stroke="#111" stroke-width="1"/>
<rect x="274.05" y="254.01" width="4.3" height="10.89" fill="#8e4ba0"/>
<line x1="276.2" y1="254.01" x2="276.2" y2="249.06" stroke="#2a2a2a" stroke-width="0.85"/>
<line x1="275.25" y1="249.46" x2="277.15" y2="249.46" stroke="#111" stroke-width="1"/>
<rect x="278.35" y="259.68" width="4.3" height="5.22" fill="#e07c10"/>
<line x1="280.5" y1="259.68" x2="280.5" y2="255.52" stroke="#2a2a2a" stroke-width="0.85"/>
<line x1="279.55" y1="255.92" x2="281.45" y2="255.92" stroke="#111" stroke-width="1"/>
<rect x="282.65" y="257.82" width="4.3" height="7.08" fill="#8c50a0"/>
<line x1="284.8" y1="257.82" x2="284.8" y2="253.48" stroke="#2a2a2a" stroke-width="0.85"/>
<line x1="283.85" y1="253.88" x2="285.75" y2="253.88" stroke="#111" stroke-width="1"/>
<line x1="211.1" y1="173.4" x2="211.1" y2="265.5" stroke="#3a3a3a" stroke-width="1.4"/>
<line x1="207.9" y1="264.9" x2="211.1" y2="264.9" stroke="#3a3a3a" stroke-width="1"/>
<text x="205.1" y="267.4" font-size="8.3" text-anchor="end" font-weight="normal" fill="#2a2a2a" textLength="4.34" lengthAdjust="spacingAndGlyphs">0</text>
<line x1="207.9" y1="247.2" x2="211.1" y2="247.2" stroke="#3a3a3a" stroke-width="1"/>
<text x="205.1" y="249.7" font-size="8.3" text-anchor="end" font-weight="normal" fill="#2a2a2a" textLength="8.68" lengthAdjust="spacingAndGlyphs">20</text>
<line x1="207.9" y1="229.5" x2="211.1" y2="229.5" stroke="#3a3a3a" stroke-width="1"/>
<text x="205.1" y="232" font-size="8.3" text-anchor="end" font-weight="normal" fill="#2a2a2a" textLength="8.68" lengthAdjust="spacingAndGlyphs">40</text>
<line x1="207.9" y1="211.8" x2="211.1" y2="211.8" stroke="#3a3a3a" stroke-width="1"/>
<text x="205.1" y="214.3" font-size="8.3" text-anchor="end" font-weight="normal" fill="#2a2a2a" textLength="8.68" lengthAdjust="spacingAndGlyphs">60</text>
<line x1="207.9" y1="194.1" x2="211.1" y2="194.1" stroke="#3a3a3a" stroke-width="1"/>
<text x="205.1" y="196.6" font-size="8.3" text-anchor="end" font-weight="normal" fill="#2a2a2a" textLength="8.68" lengthAdjust="spacingAndGlyphs">80</text>
<line x1="207.9" y1="176.4" x2="211.1" y2="176.4" stroke="#3a3a3a" stroke-width="1"/>
<text x="205.1" y="178.9" font-size="8.3" text-anchor="end" font-weight="normal" fill="#2a2a2a" textLength="13.01" lengthAdjust="spacingAndGlyphs">100</text>
<line x1="210.1" y1="264.9" x2="300.2" y2="264.9" stroke="#3a3a3a" stroke-width="1.3"/>
<line x1="307.3" y1="264.9" x2="343.6" y2="264.9" stroke="#3a3a3a" stroke-width="1.3"/>
<path d="M301.5 267.4L303.7 261.6 M304 267.4L306.1 261.6" stroke="#222" stroke-width="0.9" fill="none"/>
<line x1="222.1" y1="264.9" x2="222.1" y2="267.5" stroke="#3a3a3a" stroke-width="0.9"/>
<text x="222.1" y="278" font-size="8.3" text-anchor="middle" font-weight="normal" fill="#2a2a2a" textLength="11.27" lengthAdjust="spacingAndGlyphs">0-5</text>
<line x1="248.9" y1="264.9" x2="248.9" y2="267.5" stroke="#3a3a3a" stroke-width="0.9"/>
<text x="248.9" y="278" font-size="8.3" text-anchor="middle" font-weight="normal" fill="#2a2a2a" textLength="15.61" lengthAdjust="spacingAndGlyphs">6-10</text>
<line x1="276.2" y1="264.9" x2="276.2" y2="267.5" stroke="#3a3a3a" stroke-width="0.9"/>
<text x="276.2" y="278" font-size="8.3" text-anchor="middle" font-weight="normal" fill="#2a2a2a" textLength="19.95" lengthAdjust="spacingAndGlyphs">11-15</text>
<line x1="330.6" y1="264.9" x2="330.6" y2="267.5" stroke="#3a3a3a" stroke-width="0.9"/>
<text x="330.6" y="278" font-size="8.3" text-anchor="middle" font-weight="normal" fill="#2a2a2a" textLength="15.4" lengthAdjust="spacingAndGlyphs">91 +</text>
<path d="M217.6 179.3L217.6 176.1L226.5 176.1L226.5 179.3" stroke="#333" stroke-width="0.9" fill="none"/>
<text x="222.05" y="174.4" font-size="7" text-anchor="middle" font-weight="normal" fill="#2a2a2a">ns</text>
<path d="M213.5 187.5L213.5 181" stroke="#333" stroke-width="0.9" fill="none"/>
<path d="M213.5 181L226.5 181L226.5 184.1" stroke="#333" stroke-width="0.9" fill="none"/>
<path d="M213.5 183.8L222.5 183.8L222.5 186.9" stroke="#333" stroke-width="0.9" fill="none"/>
<path d="M213.5 186.5L217.6 186.5L217.6 187.8" stroke="#333" stroke-width="0.9" fill="none"/>
<text x="355" y="153.8" font-size="11.8" text-anchor="start" font-weight="bold" fill="#111">F</text>
<text x="408" y="162.6" font-size="9.3" text-anchor="start" font-weight="normal" fill="#2a2a2a" textLength="62.5" lengthAdjust="spacingAndGlyphs">Sca1 arteriolar</text>
<rect x="373.55" y="259.59" width="4.3" height="5.21" fill="#4ca048"/>
<line x1="375.7" y1="259.59" x2="375.7" y2="255.62" stroke="#2a2a2a" stroke-width="0.85"/>
<line x1="374.75" y1="256.02" x2="376.65" y2="256.02" stroke="#111" stroke-width="1"/>
<rect x="377.85" y="260.21" width="4.3" height="4.59" fill="#808080"/>
<line x1="380" y1="260.21" x2="380" y2="255.26" stroke="#2a2a2a" stroke-width="0.85"/>
<line x1="379.05" y1="255.66" x2="380.95" y2="255.66" stroke="#111" stroke-width="1"/>
<rect x="382.15" y="255.09" width="4.3" height="9.71" fill="#8e4ba0"/>
<line x1="384.3" y1="255.09" x2="384.3" y2="250.05" stroke="#2a2a2a" stroke-width="0.85"/>
<line x1="383.35" y1="250.45" x2="385.25" y2="250.45" stroke="#111" stroke-width="1"/>
<rect x="386.45" y="261.71" width="4.3" height="3.09" fill="#e07c10"/>
<line x1="388.6" y1="261.71" x2="388.6" y2="257.91" stroke="#2a2a2a" stroke-width="0.85"/>
<line x1="387.65" y1="258.31" x2="389.55" y2="258.31" stroke="#111" stroke-width="1"/>
<rect x="390.75" y="256.68" width="4.3" height="8.12" fill="#8c50a0"/>
<line x1="392.9" y1="256.68" x2="392.9" y2="252.88" stroke="#2a2a2a" stroke-width="0.85"/>
<line x1="391.95" y1="253.28" x2="393.85" y2="253.28" stroke="#111" stroke-width="1"/>
<rect x="400.35" y="261" width="4.3" height="3.8" fill="#4ca048"/>
<line x1="402.5" y1="261" x2="402.5" y2="257.38" stroke="#2a2a2a" stroke-width="0.85"/>
<line x1="401.55" y1="257.78" x2="403.45" y2="257.78" stroke="#111" stroke-width="1"/>
<rect x="404.65" y="262.15" width="4.3" height="2.65" fill="#808080"/>
<line x1="406.8" y1="262.15" x2="406.8" y2="259.5" stroke="#2a2a2a" stroke-width="0.85"/>
<line x1="405.85" y1="259.9" x2="407.75" y2="259.9" stroke="#111" stroke-width="1"/>
<rect x="408.95" y="261" width="4.3" height="3.8" fill="#8e4ba0"/>
<line x1="411.1" y1="261" x2="411.1" y2="259.5" stroke="#2a2a2a" stroke-width="0.85"/>
<line x1="410.15" y1="259.9" x2="412.05" y2="259.9" stroke="#111" stroke-width="1"/>
<rect x="413.25" y="263.92" width="4.3" height="0.88" fill="#e07c10"/>
<line x1="415.4" y1="263.92" x2="415.4" y2="261" stroke="#2a2a2a" stroke-width="0.85"/>
<line x1="414.45" y1="261.4" x2="416.35" y2="261.4" stroke="#111" stroke-width="1"/>
<rect x="417.55" y="261" width="4.3" height="3.8" fill="#8c50a0"/>
<line x1="419.7" y1="261" x2="419.7" y2="258.8" stroke="#2a2a2a" stroke-width="0.85"/>
<line x1="418.75" y1="259.2" x2="420.65" y2="259.2" stroke="#111" stroke-width="1"/>
<rect x="427.65" y="264.36" width="4.3" height="0.44" fill="#4ca048"/>
<line x1="429.8" y1="264.36" x2="429.8" y2="261.71" stroke="#2a2a2a" stroke-width="0.85"/>
<line x1="428.85" y1="262.11" x2="430.75" y2="262.11" stroke="#111" stroke-width="1"/>
<rect x="431.95" y="263.03" width="4.3" height="1.77" fill="#808080"/>
<line x1="434.1" y1="263.03" x2="434.1" y2="258.62" stroke="#2a2a2a" stroke-width="0.85"/>
<line x1="433.15" y1="259.02" x2="435.05" y2="259.02" stroke="#111" stroke-width="1"/>
<rect x="436.25" y="260.91" width="4.3" height="3.89" fill="#8e4ba0"/>
<line x1="438.4" y1="260.91" x2="438.4" y2="257.38" stroke="#2a2a2a" stroke-width="0.85"/>
<line x1="437.45" y1="257.78" x2="439.35" y2="257.78" stroke="#111" stroke-width="1"/>
<rect x="440.55" y="260.91" width="4.3" height="3.89" fill="#e07c10"/>
<line x1="442.7" y1="260.91" x2="442.7" y2="256.85" stroke="#2a2a2a" stroke-width="0.85"/>
<line x1="441.75" y1="257.25" x2="443.65" y2="257.25" stroke="#111" stroke-width="1"/>
<rect x="444.85" y="260.91" width="4.3" height="3.89" fill="#8c50a0"/>
<line x1="447" y1="260.91" x2="447" y2="258.62" stroke="#2a2a2a" stroke-width="0.85"/>
<line x1="446.05" y1="259.02" x2="447.95" y2="259.02" stroke="#111" stroke-width="1"/>
<rect x="481.45" y="238.75" width="4.3" height="26.05" fill="#4ca048"/>
<line x1="483.6" y1="238.75" x2="483.6" y2="230.1" stroke="#2a2a2a" stroke-width="0.85"/>
<line x1="482.65" y1="230.5" x2="484.55" y2="230.5" stroke="#111" stroke-width="1"/>
<rect x="485.75" y="241.67" width="4.3" height="23.13" fill="#808080"/>
<line x1="487.9" y1="241.67" x2="487.9" y2="234.78" stroke="#2a2a2a" stroke-width="0.85"/>
<line x1="486.95" y1="235.18" x2="488.85" y2="235.18" stroke="#111" stroke-width="1"/>
<rect x="490.05" y="244.76" width="4.3" height="20.04" fill="#8e4ba0"/>
<line x1="492.2" y1="244.76" x2="492.2" y2="234.25" stroke="#2a2a2a" stroke-width="0.85"/>
<line x1="491.25" y1="234.65" x2="493.15" y2="234.65" stroke="#111" stroke-width="1"/>
<rect x="494.35" y="244.76" width="4.3" height="20.04" fill="#e07c10"/>
<line x1="496.5" y1="244.76" x2="496.5" y2="227.89" stroke="#2a2a2a" stroke-width="0.85"/>
<line x1="495.55" y1="228.29" x2="497.45" y2="228.29" stroke="#111" stroke-width="1"/>
<rect x="498.65" y="246.88" width="4.3" height="17.92" fill="#8c50a0"/>
<line x1="500.8" y1="246.88" x2="500.8" y2="237.43" stroke="#2a2a2a" stroke-width="0.85"/>
<line x1="499.85" y1="237.83" x2="501.75" y2="237.83" stroke="#111" stroke-width="1"/>
<line x1="373.3" y1="173.5" x2="373.3" y2="265.4" stroke="#3a3a3a" stroke-width="1.4"/>
<line x1="370.1" y1="264.8" x2="373.3" y2="264.8" stroke="#3a3a3a" stroke-width="1"/>
<text x="367.3" y="267.3" font-size="8.3" text-anchor="end" font-weight="normal" fill="#2a2a2a" textLength="4.34" lengthAdjust="spacingAndGlyphs">0</text>
<line x1="370.1" y1="247.14" x2="373.3" y2="247.14" stroke="#3a3a3a" stroke-width="1"/>
<text x="367.3" y="249.64" font-size="8.3" text-anchor="end" font-weight="normal" fill="#2a2a2a" textLength="8.68" lengthAdjust="spacingAndGlyphs">20</text>
<line x1="370.1" y1="229.48" x2="373.3" y2="229.48" stroke="#3a3a3a" stroke-width="1"/>
<text x="367.3" y="231.98" font-size="8.3" text-anchor="end" font-weight="normal" fill="#2a2a2a" textLength="8.68" lengthAdjust="spacingAndGlyphs">40</text>
<line x1="370.1" y1="211.82" x2="373.3" y2="211.82" stroke="#3a3a3a" stroke-width="1"/>
<text x="367.3" y="214.32" font-size="8.3" text-anchor="end" font-weight="normal" fill="#2a2a2a" textLength="8.68" lengthAdjust="spacingAndGlyphs">60</text>
<line x1="370.1" y1="194.16" x2="373.3" y2="194.16" stroke="#3a3a3a" stroke-width="1"/>
<text x="367.3" y="196.66" font-size="8.3" text-anchor="end" font-weight="normal" fill="#2a2a2a" textLength="8.68" lengthAdjust="spacingAndGlyphs">80</text>
<line x1="370.1" y1="176.5" x2="373.3" y2="176.5" stroke="#3a3a3a" stroke-width="1"/>
<text x="367.3" y="179" font-size="8.3" text-anchor="end" font-weight="normal" fill="#2a2a2a" textLength="13.01" lengthAdjust="spacingAndGlyphs">100</text>
<line x1="372.3" y1="264.8" x2="462.4" y2="264.8" stroke="#3a3a3a" stroke-width="1.3"/>
<line x1="469.5" y1="264.8" x2="505.8" y2="264.8" stroke="#3a3a3a" stroke-width="1.3"/>
<path d="M463.7 267.3L465.9 261.5 M466.2 267.3L468.3 261.5" stroke="#222" stroke-width="0.9" fill="none"/>
<line x1="384.3" y1="264.8" x2="384.3" y2="267.4" stroke="#3a3a3a" stroke-width="0.9"/>
<text x="384.3" y="277.9" font-size="8.3" text-anchor="middle" font-weight="normal" fill="#2a2a2a" textLength="11.27" lengthAdjust="spacingAndGlyphs">0-5</text>
<line x1="411.1" y1="264.8" x2="411.1" y2="267.4" stroke="#3a3a3a" stroke-width="0.9"/>
<text x="411.1" y="277.9" font-size="8.3" text-anchor="middle" font-weight="normal" fill="#2a2a2a" textLength="15.61" lengthAdjust="spacingAndGlyphs">6-10</text>
<line x1="438.4" y1="264.8" x2="438.4" y2="267.4" stroke="#3a3a3a" stroke-width="0.9"/>
<text x="438.4" y="277.9" font-size="8.3" text-anchor="middle" font-weight="normal" fill="#2a2a2a" textLength="19.95" lengthAdjust="spacingAndGlyphs">11-15</text>
<line x1="492.2" y1="264.8" x2="492.2" y2="267.4" stroke="#3a3a3a" stroke-width="0.9"/>
<text x="492.2" y="277.9" font-size="8.3" text-anchor="middle" font-weight="normal" fill="#2a2a2a" textLength="15.4" lengthAdjust="spacingAndGlyphs">91 +</text>
<path d="M380.25 239.7L380.25 236.5L389.15 236.5L389.15 239.7" stroke="#333" stroke-width="0.9" fill="none"/>
<text x="384.7" y="234.8" font-size="7" text-anchor="middle" font-weight="normal" fill="#2a2a2a">ns</text>
<path d="M376.15 250.4L376.15 241.4" stroke="#333" stroke-width="0.9" fill="none"/>
<path d="M376.15 241.4L389.15 241.4L389.15 244.5" stroke="#333" stroke-width="0.9" fill="none"/>
<path d="M376.15 244.2L385.15 244.2L385.15 247.3" stroke="#333" stroke-width="0.9" fill="none"/>
<path d="M376.15 246.9L380.25 246.9L380.25 250" stroke="#333" stroke-width="0.9" fill="none"/>
<text x="115" y="295.9" font-size="11.8" text-anchor="start" font-weight="bold" fill="#111">G</text>
<text x="158.9" y="303.7" font-size="9.3" text-anchor="start" font-weight="normal" fill="#2a2a2a" textLength="81.7" lengthAdjust="spacingAndGlyphs">NG2 peri-arteriolar</text>
<rect x="133.94" y="401.45" width="4.3" height="0.35" fill="#4ca048"/>
<line x1="136.09" y1="401.45" x2="136.09" y2="400.47" stroke="#2a2a2a" stroke-width="0.85"/>
<line x1="135.14" y1="400.87" x2="137.04" y2="400.87" stroke="#111" stroke-width="1"/>
<rect x="138.24" y="401.53" width="4.3" height="0.27" fill="#808080"/>
<line x1="140.39" y1="401.53" x2="140.39" y2="400.92" stroke="#2a2a2a" stroke-width="0.85"/>
<line x1="139.44" y1="401.31" x2="141.34" y2="401.31" stroke="#111" stroke-width="1"/>
<rect x="142.54" y="400.92" width="4.3" height="0.89" fill="#8e4ba0"/>
<line x1="144.69" y1="400.92" x2="144.69" y2="399.59" stroke="#2a2a2a" stroke-width="0.85"/>
<line x1="143.74" y1="399.99" x2="145.64" y2="399.99" stroke="#111" stroke-width="1"/>
<rect x="146.84" y="400.92" width="4.3" height="0.89" fill="#e07c10"/>
<line x1="148.99" y1="400.92" x2="148.99" y2="400.03" stroke="#2a2a2a" stroke-width="0.85"/>
<line x1="148.04" y1="400.43" x2="149.94" y2="400.43" stroke="#111" stroke-width="1"/>
<rect x="151.14" y="400.47" width="4.3" height="1.33" fill="#8c50a0"/>
<line x1="153.29" y1="400.47" x2="153.29" y2="399.15" stroke="#2a2a2a" stroke-width="0.85"/>
<line x1="152.34" y1="399.55" x2="154.24" y2="399.55" stroke="#111" stroke-width="1"/>
<rect x="160.47" y="401.53" width="4.3" height="0.27" fill="#4ca048"/>
<line x1="162.62" y1="401.53" x2="162.62" y2="400.92" stroke="#2a2a2a" stroke-width="0.85"/>
<line x1="161.67" y1="401.31" x2="163.57" y2="401.31" stroke="#111" stroke-width="1"/>
<rect x="164.77" y="401.53" width="4.3" height="0.27" fill="#808080"/>
<line x1="166.92" y1="401.53" x2="166.92" y2="400.92" stroke="#2a2a2a" stroke-width="0.85"/>
<line x1="165.97" y1="401.31" x2="167.87" y2="401.31" stroke="#111" stroke-width="1"/>
<rect x="169.07" y="400.47" width="4.3" height="1.33" fill="#8e4ba0"/>
<line x1="171.22" y1="400.47" x2="171.22" y2="399.59" stroke="#2a2a2a" stroke-width="0.85"/>
<line x1="170.27" y1="399.99" x2="172.17" y2="399.99" stroke="#111" stroke-width="1"/>
<rect x="173.37" y="401.53" width="4.3" height="0.27" fill="#e07c10"/>
<line x1="175.52" y1="401.53" x2="175.52" y2="400.92" stroke="#2a2a2a" stroke-width="0.85"/>
<line x1="174.57" y1="401.31" x2="176.47" y2="401.31" stroke="#111" stroke-width="1"/>
<rect x="177.67" y="401.53" width="4.3" height="0.27" fill="#8c50a0"/>
<line x1="179.82" y1="401.53" x2="179.82" y2="400.92" stroke="#2a2a2a" stroke-width="0.85"/>
<line x1="178.87" y1="401.31" x2="180.77" y2="401.31" stroke="#111" stroke-width="1"/>
<rect x="187.5" y="401.53" width="4.3" height="0.27" fill="#4ca048"/>
<line x1="189.65" y1="401.53" x2="189.65" y2="400.92" stroke="#2a2a2a" stroke-width="0.85"/>
<line x1="188.7" y1="401.31" x2="190.6" y2="401.31" stroke="#111" stroke-width="1"/>
<rect x="191.8" y="401.53" width="4.3" height="0.27" fill="#808080"/>
<line x1="193.95" y1="401.53" x2="193.95" y2="400.92" stroke="#2a2a2a" stroke-width="0.85"/>
<line x1="193" y1="401.31" x2="194.9" y2="401.31" stroke="#111" stroke-width="1"/>
<rect x="196.1" y="401.36" width="4.3" height="0.44" fill="#8e4ba0"/>
<line x1="198.25" y1="401.36" x2="198.25" y2="400.47" stroke="#2a2a2a" stroke-width="0.85"/>
<line x1="197.3" y1="400.87" x2="199.2" y2="400.87" stroke="#111" stroke-width="1"/>
<rect x="200.4" y="401.53" width="4.3" height="0.27" fill="#e07c10"/>
<line x1="202.55" y1="401.53" x2="202.55" y2="400.92" stroke="#2a2a2a" stroke-width="0.85"/>
<line x1="201.6" y1="401.31" x2="203.5" y2="401.31" stroke="#111" stroke-width="1"/>
<rect x="204.7" y="401.53" width="4.3" height="0.27" fill="#8c50a0"/>
<line x1="206.85" y1="401.53" x2="206.85" y2="400.92" stroke="#2a2a2a" stroke-width="0.85"/>
<line x1="205.9" y1="401.31" x2="207.8" y2="401.31" stroke="#111" stroke-width="1"/>
<rect x="241.85" y="314.89" width="4.3" height="86.91" fill="#4ca048"/>
<line x1="244" y1="314.89" x2="244" y2="314.19" stroke="#2a2a2a" stroke-width="0.85"/>
<line x1="243.05" y1="314.58" x2="244.95" y2="314.58" stroke="#111" stroke-width="1"/>
<rect x="246.15" y="320.03" width="4.3" height="81.77" fill="#808080"/>
<line x1="248.3" y1="320.03" x2="248.3" y2="315.51" stroke="#2a2a2a" stroke-width="0.85"/>
<line x1="247.35" y1="315.91" x2="249.25" y2="315.91" stroke="#111" stroke-width="1"/>
<rect x="250.45" y="317.19" width="4.3" height="84.61" fill="#8e4ba0"/>
<line x1="252.6" y1="317.19" x2="252.6" y2="315.51" stroke="#2a2a2a" stroke-width="0.85"/>
<line x1="251.65" y1="315.91" x2="253.55" y2="315.91" stroke="#111" stroke-width="1"/>
<rect x="254.75" y="338.35" width="4.3" height="63.45" fill="#e07c10"/>
<line x1="256.9" y1="338.35" x2="256.9" y2="323.12" stroke="#2a2a2a" stroke-width="0.85"/>
<line x1="255.95" y1="323.52" x2="257.85" y2="323.52" stroke="#111" stroke-width="1"/>
<rect x="259.05" y="341.18" width="4.3" height="60.62" fill="#8c50a0"/>
<line x1="261.2" y1="341.18" x2="261.2" y2="324.01" stroke="#2a2a2a" stroke-width="0.85"/>
<line x1="260.25" y1="324.41" x2="262.15" y2="324.41" stroke="#111" stroke-width="1"/>
<line x1="133.8" y1="310.3" x2="133.8" y2="402.4" stroke="#3a3a3a" stroke-width="1.4"/>
<line x1="130.6" y1="401.8" x2="133.8" y2="401.8" stroke="#3a3a3a" stroke-width="1"/>
<text x="127.8" y="404.3" font-size="8.3" text-anchor="end" font-weight="normal" fill="#2a2a2a" textLength="4.34" lengthAdjust="spacingAndGlyphs">0</text>
<line x1="130.6" y1="384.1" x2="133.8" y2="384.1" stroke="#3a3a3a" stroke-width="1"/>
<text x="127.8" y="386.6" font-size="8.3" text-anchor="end" font-weight="normal" fill="#2a2a2a" textLength="8.68" lengthAdjust="spacingAndGlyphs">20</text>
<line x1="130.6" y1="366.4" x2="133.8" y2="366.4" stroke="#3a3a3a" stroke-width="1"/>
<text x="127.8" y="368.9" font-size="8.3" text-anchor="end" font-weight="normal" fill="#2a2a2a" textLength="8.68" lengthAdjust="spacingAndGlyphs">40</text>
<line x1="130.6" y1="348.7" x2="133.8" y2="348.7" stroke="#3a3a3a" stroke-width="1"/>
<text x="127.8" y="351.2" font-size="8.3" text-anchor="end" font-weight="normal" fill="#2a2a2a" textLength="8.68" lengthAdjust="spacingAndGlyphs">60</text>
<line x1="130.6" y1="331" x2="133.8" y2="331" stroke="#3a3a3a" stroke-width="1"/>
<text x="127.8" y="333.5" font-size="8.3" text-anchor="end" font-weight="normal" fill="#2a2a2a" textLength="8.68" lengthAdjust="spacingAndGlyphs">80</text>
<line x1="130.6" y1="313.3" x2="133.8" y2="313.3" stroke="#3a3a3a" stroke-width="1"/>
<text x="127.8" y="315.8" font-size="8.3" text-anchor="end" font-weight="normal" fill="#2a2a2a" textLength="13.01" lengthAdjust="spacingAndGlyphs">100</text>
<line x1="132.8" y1="401.8" x2="221.98" y2="401.8" stroke="#3a3a3a" stroke-width="1.3"/>
<line x1="229.08" y1="401.8" x2="264.98" y2="401.8" stroke="#3a3a3a" stroke-width="1.3"/>
<path d="M223.28 404.3L225.48 398.5 M225.78 404.3L227.88 398.5" stroke="#222" stroke-width="0.9" fill="none"/>
<line x1="144.69" y1="401.8" x2="144.69" y2="404.4" stroke="#3a3a3a" stroke-width="0.9"/>
<text x="144.69" y="414.9" font-size="8.3" text-anchor="middle" font-weight="normal" fill="#2a2a2a" textLength="11.27" lengthAdjust="spacingAndGlyphs">0-5</text>
<line x1="171.22" y1="401.8" x2="171.22" y2="404.4" stroke="#3a3a3a" stroke-width="0.9"/>
<text x="171.22" y="414.9" font-size="8.3" text-anchor="middle" font-weight="normal" fill="#2a2a2a" textLength="15.61" lengthAdjust="spacingAndGlyphs">6-10</text>
<line x1="198.25" y1="401.8" x2="198.25" y2="404.4" stroke="#3a3a3a" stroke-width="0.9"/>
<text x="198.25" y="414.9" font-size="8.3" text-anchor="middle" font-weight="normal" fill="#2a2a2a" textLength="19.95" lengthAdjust="spacingAndGlyphs">11-15</text>
<line x1="252.6" y1="401.8" x2="252.6" y2="404.4" stroke="#3a3a3a" stroke-width="0.9"/>
<text x="252.6" y="414.9" font-size="8.3" text-anchor="middle" font-weight="normal" fill="#2a2a2a" textLength="15.4" lengthAdjust="spacingAndGlyphs">91 +</text>
<path d="M140.55 386.7L140.55 383.5L149.45 383.5L149.45 386.7" stroke="#333" stroke-width="0.9" fill="none"/>
<text x="145" y="381.8" font-size="7" text-anchor="middle" font-weight="normal" fill="#2a2a2a">ns</text>
<path d="M136.45 396.5L136.45 388.4" stroke="#333" stroke-width="0.9" fill="none"/>
<path d="M136.45 388.4L149.45 388.4L149.45 391.5" stroke="#333" stroke-width="0.9" fill="none"/>
<path d="M136.45 391.2L145.45 391.2L145.45 394.3" stroke="#333" stroke-width="0.9" fill="none"/>
<path d="M136.45 393.9L140.55 393.9L140.55 396.8" stroke="#333" stroke-width="0.9" fill="none"/>
<text x="273" y="295.9" font-size="11.8" text-anchor="start" font-weight="bold" fill="#111">H</text>
<text x="319.8" y="303.7" font-size="9.3" text-anchor="start" font-weight="normal" fill="#2a2a2a" textLength="75.6" lengthAdjust="spacingAndGlyphs">CD105 sinusoidal</text>
<rect x="291.64" y="347.09" width="4.3" height="54.81" fill="#4ca048"/>
<line x1="293.79" y1="347.09" x2="293.79" y2="343.2" stroke="#2a2a2a" stroke-width="0.85"/>
<line x1="292.84" y1="343.6" x2="294.74" y2="343.6" stroke="#111" stroke-width="1"/>
<rect x="295.94" y="346.47" width="4.3" height="55.43" fill="#808080"/>
<line x1="298.09" y1="346.47" x2="298.09" y2="342.67" stroke="#2a2a2a" stroke-width="0.85"/>
<line x1="297.14" y1="343.07" x2="299.04" y2="343.07" stroke="#111" stroke-width="1"/>
<rect x="300.24" y="350.63" width="4.3" height="51.27" fill="#8e4ba0"/>
<line x1="302.39" y1="350.63" x2="302.39" y2="345.15" stroke="#2a2a2a" stroke-width="0.85"/>
<line x1="301.44" y1="345.55" x2="303.34" y2="345.55" stroke="#111" stroke-width="1"/>
<rect x="304.54" y="350.01" width="4.3" height="51.89" fill="#e07c10"/>
<line x1="306.69" y1="350.01" x2="306.69" y2="339.75" stroke="#2a2a2a" stroke-width="0.85"/>
<line x1="305.74" y1="340.15" x2="307.64" y2="340.15" stroke="#111" stroke-width="1"/>
<rect x="308.84" y="349.3" width="4.3" height="52.6" fill="#8c50a0"/>
<line x1="310.99" y1="349.3" x2="310.99" y2="340.73" stroke="#2a2a2a" stroke-width="0.85"/>
<line x1="310.04" y1="341.13" x2="311.94" y2="341.13" stroke="#111" stroke-width="1"/>
<rect x="318.17" y="392.18" width="4.3" height="9.72" fill="#4ca048"/>
<line x1="320.32" y1="392.18" x2="320.32" y2="382.1" stroke="#2a2a2a" stroke-width="0.85"/>
<line x1="319.37" y1="382.5" x2="321.27" y2="382.5" stroke="#111" stroke-width="1"/>
<rect x="322.47" y="385.1" width="4.3" height="16.8" fill="#808080"/>
<line x1="324.62" y1="385.1" x2="324.62" y2="382.81" stroke="#2a2a2a" stroke-width="0.85"/>
<line x1="323.67" y1="383.21" x2="325.57" y2="383.21" stroke="#111" stroke-width="1"/>
<rect x="326.77" y="389.17" width="4.3" height="12.73" fill="#8e4ba0"/>
<line x1="328.92" y1="389.17" x2="328.92" y2="386.16" stroke="#2a2a2a" stroke-width="0.85"/>
<line x1="327.97" y1="386.56" x2="329.87" y2="386.56" stroke="#111" stroke-width="1"/>
<rect x="331.07" y="385.99" width="4.3" height="15.91" fill="#e07c10"/>
<line x1="333.22" y1="385.99" x2="333.22" y2="380.24" stroke="#2a2a2a" stroke-width="0.85"/>
<line x1="332.27" y1="380.64" x2="334.17" y2="380.64" stroke="#111" stroke-width="1"/>
<rect x="335.37" y="386.43" width="4.3" height="15.47" fill="#8c50a0"/>
<line x1="337.52" y1="386.43" x2="337.52" y2="382.45" stroke="#2a2a2a" stroke-width="0.85"/>
<line x1="336.57" y1="382.85" x2="338.47" y2="382.85" stroke="#111" stroke-width="1"/>
<rect x="345.2" y="390.32" width="4.3" height="11.58" fill="#4ca048"/>
<line x1="347.35" y1="390.32" x2="347.35" y2="383.34" stroke="#2a2a2a" stroke-width="0.85"/>
<line x1="346.4" y1="383.74" x2="348.3" y2="383.74" stroke="#111" stroke-width="1"/>
<rect x="349.5" y="393.86" width="4.3" height="8.04" fill="#808080"/>
<line x1="351.65" y1="393.86" x2="351.65" y2="391.56" stroke="#2a2a2a" stroke-width="0.85"/>
<line x1="350.7" y1="391.96" x2="352.6" y2="391.96" stroke="#111" stroke-width="1"/>
<rect x="353.8" y="391.29" width="4.3" height="10.61" fill="#8e4ba0"/>
<line x1="355.95" y1="391.29" x2="355.95" y2="389.61" stroke="#2a2a2a" stroke-width="0.85"/>
<line x1="355" y1="390.01" x2="356.9" y2="390.01" stroke="#111" stroke-width="1"/>
<rect x="358.1" y="391.56" width="4.3" height="10.34" fill="#e07c10"/>
<line x1="360.25" y1="391.56" x2="360.25" y2="386.96" stroke="#2a2a2a" stroke-width="0.85"/>
<line x1="359.3" y1="387.36" x2="361.2" y2="387.36" stroke="#111" stroke-width="1"/>
<rect x="362.4" y="391.29" width="4.3" height="10.61" fill="#8c50a0"/>
<line x1="364.55" y1="391.29" x2="364.55" y2="388.46" stroke="#2a2a2a" stroke-width="0.85"/>
<line x1="363.6" y1="388.86" x2="365.5" y2="388.86" stroke="#111" stroke-width="1"/>
<line x1="291.5" y1="310.5" x2="291.5" y2="402.5" stroke="#3a3a3a" stroke-width="1.4"/>
<line x1="288.3" y1="401.9" x2="291.5" y2="401.9" stroke="#3a3a3a" stroke-width="1"/>
<text x="285.5" y="404.4" font-size="8.3" text-anchor="end" font-weight="normal" fill="#2a2a2a" textLength="4.34" lengthAdjust="spacingAndGlyphs">0</text>
<line x1="288.3" y1="384.22" x2="291.5" y2="384.22" stroke="#3a3a3a" stroke-width="1"/>
<text x="285.5" y="386.72" font-size="8.3" text-anchor="end" font-weight="normal" fill="#2a2a2a" textLength="8.68" lengthAdjust="spacingAndGlyphs">20</text>
<line x1="288.3" y1="366.54" x2="291.5" y2="366.54" stroke="#3a3a3a" stroke-width="1"/>
<text x="285.5" y="369.04" font-size="8.3" text-anchor="end" font-weight="normal" fill="#2a2a2a" textLength="8.68" lengthAdjust="spacingAndGlyphs">40</text>
<line x1="288.3" y1="348.86" x2="291.5" y2="348.86" stroke="#3a3a3a" stroke-width="1"/>
<text x="285.5" y="351.36" font-size="8.3" text-anchor="end" font-weight="normal" fill="#2a2a2a" textLength="8.68" lengthAdjust="spacingAndGlyphs">60</text>
<line x1="288.3" y1="331.18" x2="291.5" y2="331.18" stroke="#3a3a3a" stroke-width="1"/>
<text x="285.5" y="333.68" font-size="8.3" text-anchor="end" font-weight="normal" fill="#2a2a2a" textLength="8.68" lengthAdjust="spacingAndGlyphs">80</text>
<line x1="288.3" y1="313.5" x2="291.5" y2="313.5" stroke="#3a3a3a" stroke-width="1"/>
<text x="285.5" y="316" font-size="8.3" text-anchor="end" font-weight="normal" fill="#2a2a2a" textLength="13.01" lengthAdjust="spacingAndGlyphs">100</text>
<line x1="290.5" y1="401.9" x2="379.68" y2="401.9" stroke="#3a3a3a" stroke-width="1.3"/>
<line x1="386.78" y1="401.9" x2="422.68" y2="401.9" stroke="#3a3a3a" stroke-width="1.3"/>
<path d="M380.98 404.4L383.18 398.6 M383.48 404.4L385.58 398.6" stroke="#222" stroke-width="0.9" fill="none"/>
<line x1="302.39" y1="401.9" x2="302.39" y2="404.5" stroke="#3a3a3a" stroke-width="0.9"/>
<text x="302.39" y="415" font-size="8.3" text-anchor="middle" font-weight="normal" fill="#2a2a2a" textLength="11.27" lengthAdjust="spacingAndGlyphs">0-5</text>
<line x1="328.92" y1="401.9" x2="328.92" y2="404.5" stroke="#3a3a3a" stroke-width="0.9"/>
<text x="328.92" y="415" font-size="8.3" text-anchor="middle" font-weight="normal" fill="#2a2a2a" textLength="15.61" lengthAdjust="spacingAndGlyphs">6-10</text>
<line x1="355.95" y1="401.9" x2="355.95" y2="404.5" stroke="#3a3a3a" stroke-width="0.9"/>
<text x="355.95" y="415" font-size="8.3" text-anchor="middle" font-weight="normal" fill="#2a2a2a" textLength="19.95" lengthAdjust="spacingAndGlyphs">11-15</text>
<line x1="409.81" y1="401.9" x2="409.81" y2="404.5" stroke="#3a3a3a" stroke-width="0.9"/>
<text x="409.81" y="415" font-size="8.3" text-anchor="middle" font-weight="normal" fill="#2a2a2a" textLength="15.4" lengthAdjust="spacingAndGlyphs">91 +</text>
<path d="M298.15 328.6L298.15 325.4L307.05 325.4L307.05 328.6" stroke="#333" stroke-width="0.9" fill="none"/>
<text x="302.6" y="323.7" font-size="7" text-anchor="middle" font-weight="normal" fill="#2a2a2a">ns</text>
<path d="M294.05 338.5L294.05 330.3" stroke="#333" stroke-width="0.9" fill="none"/>
<path d="M294.05 330.3L307.05 330.3L307.05 333.4" stroke="#333" stroke-width="0.9" fill="none"/>
<path d="M294.05 333.1L303.05 333.1L303.05 336.2" stroke="#333" stroke-width="0.9" fill="none"/>
<path d="M294.05 335.8L298.15 335.8L298.15 338.8" stroke="#333" stroke-width="0.9" fill="none"/>
<rect x="99.2" y="38.1" width="7.8" height="7.6" fill="#4ca048"/>
<text x="110.4" y="44.5" font-size="8.2" text-anchor="start" font-weight="normal" fill="#2a2a2a" textLength="8.2" lengthAdjust="spacingAndGlyphs">LR</text>
<rect x="99.2" y="49.3" width="7.8" height="7.6" fill="#808080"/>
<text x="110.4" y="55.7" font-size="8.2" text-anchor="start" font-weight="normal" fill="#2a2a2a" textLength="23.7" lengthAdjust="spacingAndGlyphs">non-LR</text>
<rect x="99.2" y="60.1" width="7.8" height="7.6" fill="#8e4ba0"/>
<text x="110.4" y="66.5" font-size="8.2" text-anchor="start" font-weight="normal" fill="#2a2a2a" textLength="9.9" lengthAdjust="spacingAndGlyphs">RD</text>
<rect x="99.2" y="81.9" width="7.8" height="7.6" fill="#e07c10"/>
<text x="110.4" y="88.3" font-size="8.2" text-anchor="start" font-weight="normal" fill="#2a2a2a" textLength="14.9" lengthAdjust="spacingAndGlyphs">HSC</text>
<text x="125.5" y="85.2" font-size="5" text-anchor="start" font-weight="normal" fill="#2a2a2a" textLength="11.2" lengthAdjust="spacingAndGlyphs">&#946;-cat</text>
<rect x="99.2" y="93.1" width="7.8" height="7.6" fill="#8c50a0"/>
<text x="110.4" y="99.5" font-size="8.2" text-anchor="start" font-weight="normal" fill="#2a2a2a" textLength="9.5" lengthAdjust="spacingAndGlyphs">RD</text>
<text x="120.1" y="96.4" font-size="5" text-anchor="start" font-weight="normal" fill="#2a2a2a" textLength="11.2" lengthAdjust="spacingAndGlyphs">&#946;-cat</text>
<line x1="27.3" y1="33" x2="27.3" y2="416.2" stroke="#555" stroke-width="1.2"/>
<path d="M27.3 28.3L25 33.6L29.6 33.6Z" stroke="none" stroke-width="0" fill="#111"/>
<line x1="32" y1="422" x2="506" y2="422" stroke="#555" stroke-width="1.2"/>
<path d="M511 422L505.4 419.6L505.4 424.4Z" stroke="none" stroke-width="0" fill="#111"/>
<text transform="translate(16.8,224) rotate(-90)" font-size="9.8" text-anchor="middle" fill="#2a2a2a" stroke="#222" stroke-width="0.15" textLength="73.6" lengthAdjust="spacingAndGlyphs">% percentage (femur)</text>
<text x="140" y="437" font-size="10" text-anchor="start" font-weight="normal" fill="#1a1a1a" textLength="260" lengthAdjust="spacingAndGlyphs" stroke="#1a1a1a" stroke-width="0.22">Minimum distance from single niches based on markers &amp; morphology (&#956;m)</text>
<line x1="78.4" y1="459.6" x2="78.4" y2="586.6" stroke="#3a3a3a" stroke-width="1.1"/>
<line x1="75.2" y1="586.3" x2="78.4" y2="586.3" stroke="#3a3a3a" stroke-width="0.9"/>
<text x="72" y="588.9" font-size="8.3" text-anchor="end" font-weight="normal" fill="#2a2a2a" textLength="4.34" lengthAdjust="spacingAndGlyphs">0</text>
<line x1="76.6" y1="575.77" x2="78.4" y2="575.77" stroke="#3a3a3a" stroke-width="0.9"/>
<line x1="75.2" y1="565.25" x2="78.4" y2="565.25" stroke="#3a3a3a" stroke-width="0.9"/>
<text x="72" y="567.85" font-size="8.3" text-anchor="end" font-weight="normal" fill="#2a2a2a" textLength="8.68" lengthAdjust="spacingAndGlyphs">20</text>
<line x1="76.6" y1="554.72" x2="78.4" y2="554.72" stroke="#3a3a3a" stroke-width="0.9"/>
<line x1="75.2" y1="544.2" x2="78.4" y2="544.2" stroke="#3a3a3a" stroke-width="0.9"/>
<text x="72" y="546.8" font-size="8.3" text-anchor="end" font-weight="normal" fill="#2a2a2a" textLength="8.68" lengthAdjust="spacingAndGlyphs">40</text>
<line x1="76.6" y1="533.67" x2="78.4" y2="533.67" stroke="#3a3a3a" stroke-width="0.9"/>
<line x1="75.2" y1="523.15" x2="78.4" y2="523.15" stroke="#3a3a3a" stroke-width="0.9"/>
<text x="72" y="525.75" font-size="8.3" text-anchor="end" font-weight="normal" fill="#2a2a2a" textLength="8.68" lengthAdjust="spacingAndGlyphs">60</text>
<line x1="76.6" y1="512.62" x2="78.4" y2="512.62" stroke="#3a3a3a" stroke-width="0.9"/>
<line x1="75.2" y1="502.1" x2="78.4" y2="502.1" stroke="#3a3a3a" stroke-width="0.9"/>
<text x="72" y="504.7" font-size="8.3" text-anchor="end" font-weight="normal" fill="#2a2a2a" textLength="8.68" lengthAdjust="spacingAndGlyphs">80</text>
<line x1="76.6" y1="491.57" x2="78.4" y2="491.57" stroke="#3a3a3a" stroke-width="0.9"/>
<line x1="75.2" y1="481.05" x2="78.4" y2="481.05" stroke="#3a3a3a" stroke-width="0.9"/>
<text x="72" y="483.65" font-size="8.3" text-anchor="end" font-weight="normal" fill="#2a2a2a" textLength="13.01" lengthAdjust="spacingAndGlyphs">100</text>
<line x1="76.6" y1="470.52" x2="78.4" y2="470.52" stroke="#3a3a3a" stroke-width="0.9"/>
<line x1="75.2" y1="460" x2="78.4" y2="460" stroke="#3a3a3a" stroke-width="0.9"/>
<text x="72" y="462.6" font-size="8.3" text-anchor="end" font-weight="normal" fill="#2a2a2a" textLength="13.01" lengthAdjust="spacingAndGlyphs">120</text>
<line x1="77.9" y1="586.3" x2="262.4" y2="586.3" stroke="#3a3a3a" stroke-width="1"/>
<line x1="78.4" y1="586.3" x2="78.4" y2="589.1" stroke="#3a3a3a" stroke-width="0.9"/>
<text x="78.4" y="599.2" font-size="8.3" text-anchor="middle" font-weight="normal" fill="#2a2a2a" textLength="4.34" lengthAdjust="spacingAndGlyphs">0</text>
<line x1="101.4" y1="586.3" x2="101.4" y2="588.2" stroke="#3a3a3a" stroke-width="0.9"/>
<line x1="124.4" y1="586.3" x2="124.4" y2="589.1" stroke="#3a3a3a" stroke-width="0.9"/>
<text x="124.4" y="599.2" font-size="8.3" text-anchor="middle" font-weight="normal" fill="#2a2a2a" textLength="8.68" lengthAdjust="spacingAndGlyphs">10</text>
<line x1="147.4" y1="586.3" x2="147.4" y2="588.2" stroke="#3a3a3a" stroke-width="0.9"/>
<line x1="170.4" y1="586.3" x2="170.4" y2="589.1" stroke="#3a3a3a" stroke-width="0.9"/>
<text x="170.4" y="599.2" font-size="8.3" text-anchor="middle" font-weight="normal" fill="#2a2a2a" textLength="8.68" lengthAdjust="spacingAndGlyphs">20</text>
<line x1="193.4" y1="586.3" x2="193.4" y2="588.2" stroke="#3a3a3a" stroke-width="0.9"/>
<line x1="216.4" y1="586.3" x2="216.4" y2="589.1" stroke="#3a3a3a" stroke-width="0.9"/>
<text x="216.4" y="599.2" font-size="8.3" text-anchor="middle" font-weight="normal" fill="#2a2a2a" textLength="8.68" lengthAdjust="spacingAndGlyphs">30</text>
<line x1="239.4" y1="586.3" x2="239.4" y2="588.2" stroke="#3a3a3a" stroke-width="0.9"/>
<line x1="262.4" y1="586.3" x2="262.4" y2="589.1" stroke="#3a3a3a" stroke-width="0.9"/>
<text x="262.4" y="599.2" font-size="8.3" text-anchor="middle" font-weight="normal" fill="#2a2a2a" textLength="8.68" lengthAdjust="spacingAndGlyphs">40</text>
<circle cx="78.4" cy="501.2" r="2.05" fill="rgba(190,80,230,0.38)"/>
<circle cx="78.4" cy="506.9" r="2.05" fill="rgba(190,80,230,0.38)"/>
<circle cx="83" cy="525.1" r="2.05" fill="rgba(190,80,230,0.38)"/>
<circle cx="83" cy="530.5" r="2.05" fill="rgba(190,80,230,0.38)"/>
<circle cx="83" cy="544.8" r="2.05" fill="rgba(190,80,230,0.38)"/>
<circle cx="83" cy="555.9" r="2.05" fill="rgba(190,80,230,0.38)"/>
<circle cx="87.6" cy="512.8" r="2.05" fill="rgba(190,80,230,0.38)"/>
<circle cx="87.6" cy="530.4" r="2.05" fill="rgba(190,80,230,0.38)"/>
<circle cx="87.6" cy="541.5" r="2.05" fill="rgba(190,80,230,0.38)"/>
<circle cx="87.6" cy="564.3" r="2.05" fill="rgba(190,80,230,0.38)"/>
<circle cx="87.6" cy="572.8" r="2.05" fill="rgba(190,80,230,0.38)"/>
<circle cx="92.2" cy="539.4" r="2.05" fill="rgba(190,80,230,0.38)"/>
<circle cx="92.2" cy="544.2" r="2.05" fill="rgba(190,80,230,0.38)"/>
<circle cx="92.2" cy="565.4" r="2.05" fill="rgba(190,80,230,0.38)"/>
<circle cx="92.2" cy="580" r="2.05" fill="rgba(190,80,230,0.38)"/>
<circle cx="96.8" cy="550.6" r="2.05" fill="rgba(190,80,230,0.38)"/>
<circle cx="96.8" cy="567.5" r="2.05" fill="rgba(190,80,230,0.38)"/>
<circle cx="96.8" cy="575" r="2.05" fill="rgba(190,80,230,0.38)"/>
<circle cx="101.4" cy="517" r="2.05" fill="rgba(190,80,230,0.38)"/>
<circle cx="101.4" cy="538.9" r="2.05" fill="rgba(190,80,230,0.38)"/>
<circle cx="101.4" cy="553.8" r="2.05" fill="rgba(190,80,230,0.38)"/>
<circle cx="101.4" cy="571.7" r="2.05" fill="rgba(190,80,230,0.38)"/>
<circle cx="106" cy="520.9" r="2.05" fill="rgba(190,80,230,0.38)"/>
<circle cx="106" cy="532.5" r="2.05" fill="rgba(190,80,230,0.38)"/>
<circle cx="106" cy="544" r="2.05" fill="rgba(190,80,230,0.38)"/>
<circle cx="106" cy="559.6" r="2.05" fill="rgba(190,80,230,0.38)"/>
<circle cx="106" cy="571.7" r="2.05" fill="rgba(190,80,230,0.38)"/>
<circle cx="110.6" cy="543" r="2.05" fill="rgba(190,80,230,0.38)"/>
<circle cx="110.6" cy="545.2" r="2.05" fill="rgba(190,80,230,0.38)"/>
<circle cx="110.6" cy="565.4" r="2.05" fill="rgba(190,80,230,0.38)"/>
<circle cx="110.6" cy="568" r="2.05" fill="rgba(190,80,230,0.38)"/>
<circle cx="115.2" cy="535" r="2.05" fill="rgba(190,80,230,0.38)"/>
<circle cx="115.2" cy="547.4" r="2.05" fill="rgba(190,80,230,0.38)"/>
<circle cx="115.2" cy="567" r="2.05" fill="rgba(190,80,230,0.38)"/>
<circle cx="115.2" cy="569.6" r="2.05" fill="rgba(190,80,230,0.38)"/>
<circle cx="119.8" cy="529.4" r="2.05" fill="rgba(190,80,230,0.38)"/>
<circle cx="119.8" cy="536.3" r="2.05" fill="rgba(190,80,230,0.38)"/>
<circle cx="119.8" cy="550.6" r="2.05" fill="rgba(190,80,230,0.38)"/>
<circle cx="119.8" cy="559.6" r="2.05" fill="rgba(190,80,230,0.38)"/>
<circle cx="119.8" cy="571.7" r="2.05" fill="rgba(190,80,230,0.38)"/>
<circle cx="124.4" cy="511.7" r="2.05" fill="rgba(190,80,230,0.38)"/>
<circle cx="124.4" cy="568.5" r="2.05" fill="rgba(190,80,230,0.38)"/>
<circle cx="129" cy="550.6" r="2.05" fill="rgba(190,80,230,0.38)"/>
<circle cx="129" cy="562.7" r="2.05" fill="rgba(190,80,230,0.38)"/>
<circle cx="129" cy="571.2" r="2.05" fill="rgba(190,80,230,0.38)"/>
<circle cx="133.6" cy="515.9" r="2.05" fill="rgba(190,80,230,0.38)"/>
<circle cx="133.6" cy="538.9" r="2.05" fill="rgba(190,80,230,0.38)"/>
<circle cx="133.6" cy="548.5" r="2.05" fill="rgba(190,80,230,0.38)"/>
<circle cx="133.6" cy="553.2" r="2.05" fill="rgba(190,80,230,0.38)"/>
<circle cx="133.6" cy="555.9" r="2.05" fill="rgba(190,80,230,0.38)"/>
<circle cx="133.6" cy="563.3" r="2.05" fill="rgba(190,80,230,0.38)"/>
<circle cx="133.6" cy="571.2" r="2.05" fill="rgba(190,80,230,0.38)"/>
<circle cx="133.6" cy="574.9" r="2.05" fill="rgba(190,80,230,0.38)"/>
<circle cx="133.6" cy="583.4" r="2.05" fill="rgba(190,80,230,0.38)"/>
<circle cx="138.2" cy="548.2" r="2.05" fill="rgba(190,80,230,0.38)"/>
<circle cx="138.2" cy="582.3" r="2.05" fill="rgba(190,80,230,0.38)"/>
<circle cx="142.8" cy="549.3" r="2.05" fill="rgba(190,80,230,0.38)"/>
<circle cx="142.8" cy="561.2" r="2.05" fill="rgba(190,80,230,0.38)"/>
<circle cx="142.8" cy="579.1" r="2.05" fill="rgba(190,80,230,0.38)"/>
<circle cx="147.4" cy="536.8" r="2.05" fill="rgba(190,80,230,0.38)"/>
<circle cx="147.4" cy="547.2" r="2.05" fill="rgba(190,80,230,0.38)"/>
<circle cx="147.4" cy="553.2" r="2.05" fill="rgba(190,80,230,0.38)"/>
<circle cx="147.4" cy="560.1" r="2.05" fill="rgba(190,80,230,0.38)"/>
<circle cx="147.4" cy="574.9" r="2.05" fill="rgba(190,80,230,0.38)"/>
<circle cx="147.4" cy="581.2" r="2.05" fill="rgba(190,80,230,0.38)"/>
<circle cx="152" cy="523.8" r="2.05" fill="rgba(190,80,230,0.38)"/>
<circle cx="156.6" cy="549.7" r="2.05" fill="rgba(190,80,230,0.38)"/>
<circle cx="161.2" cy="569.6" r="2.05" fill="rgba(190,80,230,0.38)"/>
<circle cx="161.2" cy="579.1" r="2.05" fill="rgba(190,80,230,0.38)"/>
<circle cx="165.8" cy="562.2" r="2.05" fill="rgba(190,80,230,0.38)"/>
<circle cx="165.8" cy="565.9" r="2.05" fill="rgba(190,80,230,0.38)"/>
<circle cx="170.4" cy="555.9" r="2.05" fill="rgba(190,80,230,0.38)"/>
<circle cx="175" cy="544" r="2.05" fill="rgba(190,80,230,0.38)"/>
<circle cx="175" cy="550.4" r="2.05" fill="rgba(190,80,230,0.38)"/>
<circle cx="179.6" cy="545.5" r="2.05" fill="rgba(190,80,230,0.38)"/>
<circle cx="179.6" cy="569.3" r="2.05" fill="rgba(190,80,230,0.38)"/>
<circle cx="179.6" cy="586.6" r="2.05" fill="rgba(190,80,230,0.38)"/>
<circle cx="184.2" cy="570" r="2.05" fill="rgba(190,80,230,0.38)"/>
<circle cx="188.8" cy="567.8" r="2.05" fill="rgba(190,80,230,0.38)"/>
<circle cx="202.6" cy="560.9" r="2.05" fill="rgba(190,80,230,0.38)"/>
<circle cx="216.4" cy="537.8" r="2.05" fill="rgba(190,80,230,0.38)"/>
<circle cx="78.4" cy="481" r="2.05" fill="rgba(170,60,215,0.6)"/>
<circle cx="87.6" cy="557" r="2.05" fill="rgba(170,60,215,0.6)"/>
<circle cx="101.4" cy="541.5" r="2.05" fill="rgba(170,60,215,0.6)"/>
<circle cx="119.8" cy="518.5" r="2.05" fill="rgba(170,60,215,0.6)"/>
<circle cx="124.4" cy="586" r="2.05" fill="rgba(170,60,215,0.6)"/>
<circle cx="133.6" cy="579.1" r="2.05" fill="rgba(170,60,215,0.6)"/>
<circle cx="147.4" cy="554.8" r="2.05" fill="rgba(170,60,215,0.6)"/>
<circle cx="170.4" cy="578" r="2.05" fill="rgba(170,60,215,0.6)"/>
<circle cx="179.6" cy="571.4" r="2.05" fill="rgba(170,60,215,0.6)"/>
<circle cx="78.4" cy="496" r="2.05" fill="rgba(62,62,62,0.78)"/>
<circle cx="78.4" cy="510" r="2.05" fill="rgba(62,62,62,0.78)"/>
<circle cx="78.4" cy="513.7" r="2.05" fill="rgba(62,62,62,0.78)"/>
<circle cx="78.4" cy="516.5" r="2.05" fill="rgba(62,62,62,0.78)"/>
<circle cx="78.4" cy="526.5" r="2.05" fill="rgba(62,62,62,0.78)"/>
<circle cx="78.4" cy="529.5" r="2.05" fill="rgba(62,62,62,0.78)"/>
<circle cx="78.4" cy="532.5" r="2.05" fill="rgba(62,62,62,0.78)"/>
<circle cx="78.4" cy="540.2" r="2.05" fill="rgba(62,62,62,0.78)"/>
<circle cx="78.4" cy="542.6" r="2.05" fill="rgba(62,62,62,0.78)"/>
<circle cx="78.4" cy="550.8" r="2.05" fill="rgba(62,62,62,0.78)"/>
<circle cx="78.4" cy="557.7" r="2.05" fill="rgba(62,62,62,0.78)"/>
<circle cx="78.4" cy="566.4" r="2.05" fill="rgba(62,62,62,0.78)"/>
<circle cx="83" cy="528.3" r="2.05" fill="rgba(62,62,62,0.78)"/>
<circle cx="83" cy="533.6" r="2.05" fill="rgba(62,62,62,0.78)"/>
<circle cx="83" cy="559" r="2.05" fill="rgba(62,62,62,0.78)"/>
<circle cx="83" cy="561.2" r="2.05" fill="rgba(62,62,62,0.78)"/>
<circle cx="83" cy="569.5" r="2.05" fill="rgba(62,62,62,0.78)"/>
<circle cx="83" cy="571" r="2.05" fill="rgba(62,62,62,0.78)"/>
<circle cx="83" cy="575.4" r="2.05" fill="rgba(62,62,62,0.78)"/>
<circle cx="83" cy="583.4" r="2.05" fill="rgba(62,62,62,0.78)"/>
<circle cx="83" cy="586.5" r="2.05" fill="rgba(62,62,62,0.78)"/>
<circle cx="87.6" cy="543.7" r="2.05" fill="rgba(62,62,62,0.78)"/>
<circle cx="87.6" cy="548" r="2.05" fill="rgba(62,62,62,0.78)"/>
<circle cx="87.6" cy="560.6" r="2.05" fill="rgba(62,62,62,0.78)"/>
<circle cx="87.6" cy="568" r="2.05" fill="rgba(62,62,62,0.78)"/>
<circle cx="87.6" cy="575" r="2.05" fill="rgba(62,62,62,0.78)"/>
<circle cx="87.6" cy="586.5" r="2.05" fill="rgba(62,62,62,0.78)"/>
<circle cx="92.2" cy="535" r="2.05" fill="rgba(62,62,62,0.78)"/>
<circle cx="92.2" cy="541" r="2.05" fill="rgba(62,62,62,0.78)"/>
<circle cx="92.2" cy="562.7" r="2.05" fill="rgba(62,62,62,0.78)"/>
<circle cx="92.2" cy="574.9" r="2.05" fill="rgba(62,62,62,0.78)"/>
<circle cx="92.2" cy="586" r="2.05" fill="rgba(62,62,62,0.78)"/>
<circle cx="96.8" cy="537.8" r="2.05" fill="rgba(62,62,62,0.78)"/>
<circle cx="96.8" cy="559.6" r="2.05" fill="rgba(62,62,62,0.78)"/>
<circle cx="96.8" cy="562.7" r="2.05" fill="rgba(62,62,62,0.78)"/>
<circle cx="101.4" cy="508.5" r="2.05" fill="rgba(62,62,62,0.78)"/>
<circle cx="101.4" cy="524.4" r="2.05" fill="rgba(62,62,62,0.78)"/>
<circle cx="101.4" cy="545.3" r="2.05" fill="rgba(62,62,62,0.78)"/>
<circle cx="101.4" cy="550" r="2.05" fill="rgba(62,62,62,0.78)"/>
<circle cx="101.4" cy="557.5" r="2.05" fill="rgba(62,62,62,0.78)"/>
<circle cx="101.4" cy="560.6" r="2.05" fill="rgba(62,62,62,0.78)"/>
<circle cx="101.4" cy="565.9" r="2.05" fill="rgba(62,62,62,0.78)"/>
<circle cx="106" cy="549" r="2.05" fill="rgba(62,62,62,0.78)"/>
<circle cx="106" cy="562.7" r="2.05" fill="rgba(62,62,62,0.78)"/>
<circle cx="106" cy="579.1" r="2.05" fill="rgba(62,62,62,0.78)"/>
<circle cx="110.6" cy="519.1" r="2.05" fill="rgba(62,62,62,0.78)"/>
<circle cx="110.6" cy="533.9" r="2.05" fill="rgba(62,62,62,0.78)"/>
<circle cx="110.6" cy="556.4" r="2.05" fill="rgba(62,62,62,0.78)"/>
<circle cx="110.6" cy="559.6" r="2.05" fill="rgba(62,62,62,0.78)"/>
<circle cx="110.6" cy="574.4" r="2.05" fill="rgba(62,62,62,0.78)"/>
<circle cx="115.2" cy="555.9" r="2.05" fill="rgba(62,62,62,0.78)"/>
<circle cx="115.2" cy="586" r="2.05" fill="rgba(62,62,62,0.78)"/>
<circle cx="119.8" cy="563.8" r="2.05" fill="rgba(62,62,62,0.78)"/>
<circle cx="119.8" cy="579.1" r="2.05" fill="rgba(62,62,62,0.78)"/>
<circle cx="119.8" cy="586" r="2.05" fill="rgba(62,62,62,0.78)"/>
<circle cx="124.4" cy="530.4" r="2.05" fill="rgba(62,62,62,0.78)"/>
<circle cx="124.4" cy="543.7" r="2.05" fill="rgba(62,62,62,0.78)"/>
<circle cx="124.4" cy="562.2" r="2.05" fill="rgba(62,62,62,0.78)"/>
<circle cx="124.4" cy="576.5" r="2.05" fill="rgba(62,62,62,0.78)"/>
<circle cx="129" cy="574.4" r="2.05" fill="rgba(62,62,62,0.78)"/>
<circle cx="129" cy="580.7" r="2.05" fill="rgba(62,62,62,0.78)"/>
<circle cx="129" cy="586" r="2.05" fill="rgba(62,62,62,0.78)"/>
<circle cx="138.2" cy="505.4" r="2.05" fill="rgba(62,62,62,0.78)"/>
<circle cx="138.2" cy="520.9" r="2.05" fill="rgba(62,62,62,0.78)"/>
<circle cx="138.2" cy="557.8" r="2.05" fill="rgba(62,62,62,0.78)"/>
<circle cx="138.2" cy="565.4" r="2.05" fill="rgba(62,62,62,0.78)"/>
<circle cx="142.8" cy="509.6" r="2.05" fill="rgba(62,62,62,0.78)"/>
<circle cx="142.8" cy="552.2" r="2.05" fill="rgba(62,62,62,0.78)"/>
<circle cx="142.8" cy="555.9" r="2.05" fill="rgba(62,62,62,0.78)"/>
<circle cx="142.8" cy="570.1" r="2.05" fill="rgba(62,62,62,0.78)"/>
<circle cx="142.8" cy="582.8" r="2.05" fill="rgba(62,62,62,0.78)"/>
<circle cx="147.4" cy="520.1" r="2.05" fill="rgba(62,62,62,0.78)"/>
<circle cx="147.4" cy="571.2" r="2.05" fill="rgba(62,62,62,0.78)"/>
<circle cx="152" cy="527.5" r="2.05" fill="rgba(62,62,62,0.78)"/>
<circle cx="152" cy="553.8" r="2.05" fill="rgba(62,62,62,0.78)"/>
<circle cx="152" cy="567.3" r="2.05" fill="rgba(62,62,62,0.78)"/>
<circle cx="156.6" cy="556.4" r="2.05" fill="rgba(62,62,62,0.78)"/>
<circle cx="161.2" cy="554.8" r="2.05" fill="rgba(62,62,62,0.78)"/>
<circle cx="161.2" cy="562.7" r="2.05" fill="rgba(62,62,62,0.78)"/>
<circle cx="161.2" cy="565.4" r="2.05" fill="rgba(62,62,62,0.78)"/>
<circle cx="165.8" cy="542.1" r="2.05" fill="rgba(62,62,62,0.78)"/>
<circle cx="165.8" cy="586" r="2.05" fill="rgba(62,62,62,0.78)"/>
<circle cx="170.4" cy="565.4" r="2.05" fill="rgba(62,62,62,0.78)"/>
<circle cx="170.4" cy="569.1" r="2.05" fill="rgba(62,62,62,0.78)"/>
<circle cx="170.4" cy="586" r="2.05" fill="rgba(62,62,62,0.78)"/>
<circle cx="175" cy="564.3" r="2.05" fill="rgba(62,62,62,0.78)"/>
<circle cx="175" cy="575" r="2.05" fill="rgba(62,62,62,0.78)"/>
<circle cx="175" cy="578" r="2.05" fill="rgba(62,62,62,0.78)"/>
<circle cx="175" cy="583.4" r="2.05" fill="rgba(62,62,62,0.78)"/>
<circle cx="179.6" cy="560.6" r="2.05" fill="rgba(62,62,62,0.78)"/>
<circle cx="179.6" cy="562.8" r="2.05" fill="rgba(62,62,62,0.78)"/>
<circle cx="184.2" cy="557.7" r="2.05" fill="rgba(62,62,62,0.78)"/>
<circle cx="184.2" cy="567.1" r="2.05" fill="rgba(62,62,62,0.78)"/>
<circle cx="188.8" cy="548.3" r="2.05" fill="rgba(62,62,62,0.78)"/>
<circle cx="202.6" cy="569.6" r="2.05" fill="rgba(62,62,62,0.78)"/>
<circle cx="207.2" cy="578.6" r="2.05" fill="rgba(62,62,62,0.78)"/>
<circle cx="221" cy="573.6" r="2.05" fill="rgba(62,62,62,0.78)"/>
<circle cx="179.14" cy="519.6" r="2.05" fill="rgba(62,62,62,0.78)"/>
<circle cx="78.4" cy="472.3" r="2.05" fill="#14e614"/>
<circle cx="78.4" cy="477.2" r="2.05" fill="#14e614"/>
<circle cx="78.4" cy="520.5" r="2.05" fill="#14e614"/>
<circle cx="78.4" cy="523.5" r="2.05" fill="#14e614"/>
<circle cx="78.4" cy="534.5" r="2.05" fill="#14e614"/>
<circle cx="78.4" cy="537.5" r="2.05" fill="#14e614"/>
<circle cx="78.4" cy="543.5" r="2.05" fill="#14e614"/>
<circle cx="78.4" cy="546.5" r="2.05" fill="#14e614"/>
<circle cx="78.4" cy="549.2" r="2.05" fill="#14e614"/>
<circle cx="78.4" cy="552.5" r="2.05" fill="#14e614"/>
<circle cx="78.4" cy="555.5" r="2.05" fill="#14e614"/>
<circle cx="78.4" cy="560.8" r="2.05" fill="#14e614"/>
<circle cx="78.4" cy="563.5" r="2.05" fill="#14e614"/>
<circle cx="78.4" cy="569.2" r="2.05" fill="#14e614"/>
<circle cx="78.4" cy="572" r="2.05" fill="#14e614"/>
<circle cx="78.4" cy="574.8" r="2.05" fill="#14e614"/>
<circle cx="78.4" cy="577.6" r="2.05" fill="#14e614"/>
<circle cx="78.4" cy="580.4" r="2.05" fill="#14e614"/>
<circle cx="78.4" cy="583.2" r="2.05" fill="#14e614"/>
<circle cx="78.4" cy="586" r="2.05" fill="#14e614"/>
<circle cx="83" cy="552.7" r="2.05" fill="#14e614"/>
<circle cx="83" cy="565.4" r="2.05" fill="#14e614"/>
<circle cx="83" cy="578.6" r="2.05" fill="#14e614"/>
<circle cx="87.6" cy="536.5" r="2.05" fill="#14e614"/>
<circle cx="87.6" cy="538.6" r="2.05" fill="#14e614"/>
<circle cx="87.6" cy="550" r="2.05" fill="#14e614"/>
<circle cx="87.6" cy="553.8" r="2.05" fill="#14e614"/>
<circle cx="87.6" cy="570.1" r="2.05" fill="#14e614"/>
<circle cx="92.2" cy="525.5" r="2.05" fill="#14e614"/>
<circle cx="92.2" cy="553.8" r="2.05" fill="#14e614"/>
<circle cx="92.2" cy="558.5" r="2.05" fill="#14e614"/>
<circle cx="96.8" cy="519.1" r="2.05" fill="#14e614"/>
<circle cx="96.8" cy="543.2" r="2.05" fill="#14e614"/>
<circle cx="96.8" cy="547.4" r="2.05" fill="#14e614"/>
<circle cx="96.8" cy="555.9" r="2.05" fill="#14e614"/>
<circle cx="96.8" cy="564.3" r="2.05" fill="#14e614"/>
<circle cx="96.8" cy="571.2" r="2.05" fill="#14e614"/>
<circle cx="96.8" cy="585.5" r="2.05" fill="#14e614"/>
<circle cx="101.4" cy="570.1" r="2.05" fill="#14e614"/>
<circle cx="101.4" cy="574.4" r="2.05" fill="#14e614"/>
<circle cx="101.4" cy="586" r="2.05" fill="#14e614"/>
<circle cx="106" cy="546.6" r="2.05" fill="#14e614"/>
<circle cx="106" cy="569.1" r="2.05" fill="#14e614"/>
<circle cx="106" cy="586" r="2.05" fill="#14e614"/>
<circle cx="110.6" cy="515.9" r="2.05" fill="#14e614"/>
<circle cx="110.6" cy="547.9" r="2.05" fill="#14e614"/>
<circle cx="110.6" cy="585.5" r="2.05" fill="#14e614"/>
<circle cx="115.2" cy="543.2" r="2.05" fill="#14e614"/>
<circle cx="115.2" cy="561.7" r="2.05" fill="#14e614"/>
<circle cx="115.2" cy="572.3" r="2.05" fill="#14e614"/>
<circle cx="119.8" cy="533.9" r="2.05" fill="#14e614"/>
<circle cx="119.8" cy="544.8" r="2.05" fill="#14e614"/>
<circle cx="124.4" cy="545.8" r="2.05" fill="#14e614"/>
<circle cx="129" cy="559" r="2.05" fill="#14e614"/>
<circle cx="133.6" cy="543.9" r="2.05" fill="#14e614"/>
<circle cx="133.6" cy="559.6" r="2.05" fill="#14e614"/>
<circle cx="147.4" cy="566.2" r="2.05" fill="#14e614"/>
<circle cx="156.6" cy="566.2" r="2.05" fill="#14e614"/>
<circle cx="161.2" cy="551.4" r="2.05" fill="#14e614"/>
<circle cx="165.8" cy="571.5" r="2.05" fill="#14e614"/>
<circle cx="175" cy="553.5" r="2.05" fill="#14e614"/>
<circle cx="179.6" cy="578.6" r="2.05" fill="#14e614"/>
<circle cx="198" cy="550.5" r="2.05" fill="#14e614"/>
<circle cx="198" cy="554.8" r="2.05" fill="#14e614"/>
<circle cx="211.8" cy="584" r="2.05" fill="#14e614"/>
<circle cx="216.4" cy="512.7" r="2.05" fill="#14e614"/>
<line x1="124.4" y1="457.2" x2="124.4" y2="586.3" stroke="#111" stroke-width="1.7" stroke-dasharray="4 4"/>
<line x1="78.4" y1="576.9" x2="262.4" y2="576.9" stroke="#111" stroke-width="1.7" stroke-dasharray="4 4"/>
<rect x="86" y="577.6" width="17.4" height="8.4" fill="rgba(255,255,255,0.6)"/>
<rect x="147.5" y="577.6" width="16.2" height="8.4" fill="rgba(255,255,255,0.6)"/>
<rect x="86.5" y="461.5" width="15" height="9" fill="rgba(255,255,255,0.6)"/>
<rect x="147.5" y="461.5" width="15" height="9" fill="rgba(255,255,255,0.6)"/>
<text x="88.3" y="468.8" font-size="9.2" text-anchor="start" font-weight="bold" fill="#111">Q2</text>
<text x="149.4" y="468.8" font-size="9.2" text-anchor="start" font-weight="bold" fill="#111">Q3</text>
<text x="88.4" y="584.9" font-size="9.2" text-anchor="start" font-weight="bold" fill="#111">Q1</text>
<text x="149.5" y="584.9" font-size="9.2" text-anchor="start" font-weight="bold" fill="#111">Q4</text>
<text x="47.6" y="455.2" font-size="11.8" text-anchor="start" font-weight="bold" fill="#111">I</text>
<text transform="translate(53.7,522.9) rotate(-90)" font-size="10.2" text-anchor="middle" fill="#1a1a1a" stroke="#1a1a1a" stroke-width="0.2" textLength="89" lengthAdjust="spacingAndGlyphs">Min distance to MKs (&#956;m)</text>
<text x="102.8" y="612.8" font-size="10.2" text-anchor="start" font-weight="normal" fill="#1a1a1a" textLength="134.1" lengthAdjust="spacingAndGlyphs" stroke="#1a1a1a" stroke-width="0.2">Min distance to entire vasculature (&#956;m)</text>
<rect x="177.2" y="458.4" width="87.5" height="69.9" fill="rgba(255,255,255,0.6)"/>
<text x="203.1" y="471.8" font-size="9.4" text-anchor="middle" font-weight="bold" fill="#1cb81c">LR</text>
<text x="222.5" y="466.9" font-size="9.6" text-anchor="middle" font-weight="normal" fill="#444">non-</text>
<text x="222.5" y="476.9" font-size="9.6" text-anchor="middle" font-weight="normal" fill="#444">LR</text>
<text x="243.2" y="471.8" font-size="9.4" text-anchor="middle" font-weight="bold" fill="#b540e0">RD</text>
<text x="178.7" y="489.7" font-size="9.8" text-anchor="start" font-weight="bold" fill="#111" textLength="11.8" lengthAdjust="spacingAndGlyphs">Q1</text>
<text x="203.1" y="489.7" font-size="9.8" text-anchor="middle" font-weight="bold" fill="#18bb18">14</text>
<text x="221.9" y="489.7" font-size="9.8" text-anchor="middle" font-weight="normal" fill="#444">21</text>
<text x="243.2" y="489.7" font-size="9.8" text-anchor="middle" font-weight="bold" fill="#b540e0">23</text>
<text x="255.7" y="489.7" font-size="8.4" text-anchor="start" font-weight="bold" fill="#111">ns</text>
<text x="178.7" y="501.4" font-size="9.8" text-anchor="start" font-weight="bold" fill="#111" textLength="11.8" lengthAdjust="spacingAndGlyphs">Q2</text>
<text x="203.1" y="501.4" font-size="9.8" text-anchor="middle" font-weight="bold" fill="#18bb18">69</text>
<text x="221.9" y="501.4" font-size="9.8" text-anchor="middle" font-weight="normal" fill="#444">58</text>
<text x="243.2" y="501.4" font-size="9.8" text-anchor="middle" font-weight="bold" fill="#b540e0">57</text>
<text x="255.7" y="501.4" font-size="8.4" text-anchor="start" font-weight="bold" fill="#111">ns</text>
<text x="178.7" y="513.5" font-size="9.8" text-anchor="start" font-weight="bold" fill="#111" textLength="11.8" lengthAdjust="spacingAndGlyphs">Q3</text>
<text x="203.1" y="513.5" font-size="9.8" text-anchor="middle" font-weight="bold" fill="#18bb18">13</text>
<text x="221.9" y="513.5" font-size="9.8" text-anchor="middle" font-weight="normal" fill="#444">16</text>
<text x="243.2" y="513.5" font-size="9.8" text-anchor="middle" font-weight="bold" fill="#b540e0">13</text>
<text x="255.7" y="513.5" font-size="8.4" text-anchor="start" font-weight="bold" fill="#111">ns</text>
<text x="178.7" y="525.3" font-size="9.8" text-anchor="start" font-weight="bold" fill="#111" textLength="11.8" lengthAdjust="spacingAndGlyphs">Q4</text>
<text x="203.1" y="525.3" font-size="9.8" text-anchor="middle" font-weight="bold" fill="#18bb18">3</text>
<text x="221.9" y="525.3" font-size="9.8" text-anchor="middle" font-weight="normal" fill="#444">5</text>
<text x="243.2" y="525.3" font-size="9.8" text-anchor="middle" font-weight="bold" fill="#b540e0">7</text>
<text x="255.7" y="525.3" font-size="8.4" text-anchor="start" font-weight="bold" fill="#111">ns</text>
<line x1="307" y1="462.5" x2="307" y2="586.6" stroke="#3a3a3a" stroke-width="1.1"/>
<line x1="303.8" y1="586.3" x2="307" y2="586.3" stroke="#3a3a3a" stroke-width="0.9"/>
<text x="300.6" y="588.9" font-size="8.3" text-anchor="end" font-weight="normal" fill="#2a2a2a" textLength="4.34" lengthAdjust="spacingAndGlyphs">0</text>
<line x1="305.2" y1="573.96" x2="307" y2="573.96" stroke="#3a3a3a" stroke-width="0.9"/>
<line x1="303.8" y1="561.62" x2="307" y2="561.62" stroke="#3a3a3a" stroke-width="0.9"/>
<text x="300.6" y="564.22" font-size="8.3" text-anchor="end" font-weight="normal" fill="#2a2a2a" textLength="8.68" lengthAdjust="spacingAndGlyphs">50</text>
<line x1="305.2" y1="549.28" x2="307" y2="549.28" stroke="#3a3a3a" stroke-width="0.9"/>
<line x1="303.8" y1="536.94" x2="307" y2="536.94" stroke="#3a3a3a" stroke-width="0.9"/>
<text x="300.6" y="539.54" font-size="8.3" text-anchor="end" font-weight="normal" fill="#2a2a2a" textLength="13.01" lengthAdjust="spacingAndGlyphs">100</text>
<line x1="305.2" y1="524.6" x2="307" y2="524.6" stroke="#3a3a3a" stroke-width="0.9"/>
<line x1="303.8" y1="512.26" x2="307" y2="512.26" stroke="#3a3a3a" stroke-width="0.9"/>
<text x="300.6" y="514.86" font-size="8.3" text-anchor="end" font-weight="normal" fill="#2a2a2a" textLength="13.01" lengthAdjust="spacingAndGlyphs">150</text>
<line x1="305.2" y1="499.92" x2="307" y2="499.92" stroke="#3a3a3a" stroke-width="0.9"/>
<line x1="303.8" y1="487.58" x2="307" y2="487.58" stroke="#3a3a3a" stroke-width="0.9"/>
<text x="300.6" y="490.18" font-size="8.3" text-anchor="end" font-weight="normal" fill="#2a2a2a" textLength="13.01" lengthAdjust="spacingAndGlyphs">200</text>
<line x1="305.2" y1="475.24" x2="307" y2="475.24" stroke="#3a3a3a" stroke-width="0.9"/>
<line x1="303.8" y1="462.9" x2="307" y2="462.9" stroke="#3a3a3a" stroke-width="0.9"/>
<text x="300.6" y="465.5" font-size="8.3" text-anchor="end" font-weight="normal" fill="#2a2a2a" textLength="13.01" lengthAdjust="spacingAndGlyphs">250</text>
<line x1="306.5" y1="586.3" x2="490" y2="586.3" stroke="#3a3a3a" stroke-width="1"/>
<line x1="307" y1="586.3" x2="307" y2="589.1" stroke="#3a3a3a" stroke-width="0.9"/>
<text x="307" y="599.2" font-size="8.3" text-anchor="middle" font-weight="normal" fill="#2a2a2a" textLength="4.34" lengthAdjust="spacingAndGlyphs">0</text>
<line x1="329.88" y1="586.3" x2="329.88" y2="588.2" stroke="#3a3a3a" stroke-width="0.9"/>
<line x1="352.75" y1="586.3" x2="352.75" y2="589.1" stroke="#3a3a3a" stroke-width="0.9"/>
<text x="352.75" y="599.2" font-size="8.3" text-anchor="middle" font-weight="normal" fill="#2a2a2a" textLength="8.68" lengthAdjust="spacingAndGlyphs">10</text>
<line x1="375.62" y1="586.3" x2="375.62" y2="588.2" stroke="#3a3a3a" stroke-width="0.9"/>
<line x1="398.5" y1="586.3" x2="398.5" y2="589.1" stroke="#3a3a3a" stroke-width="0.9"/>
<text x="398.5" y="599.2" font-size="8.3" text-anchor="middle" font-weight="normal" fill="#2a2a2a" textLength="8.68" lengthAdjust="spacingAndGlyphs">20</text>
<line x1="421.38" y1="586.3" x2="421.38" y2="588.2" stroke="#3a3a3a" stroke-width="0.9"/>
<line x1="444.25" y1="586.3" x2="444.25" y2="589.1" stroke="#3a3a3a" stroke-width="0.9"/>
<text x="444.25" y="599.2" font-size="8.3" text-anchor="middle" font-weight="normal" fill="#2a2a2a" textLength="8.68" lengthAdjust="spacingAndGlyphs">30</text>
<line x1="467.12" y1="586.3" x2="467.12" y2="588.2" stroke="#3a3a3a" stroke-width="0.9"/>
<line x1="490" y1="586.3" x2="490" y2="589.1" stroke="#3a3a3a" stroke-width="0.9"/>
<text x="490" y="599.2" font-size="8.3" text-anchor="middle" font-weight="normal" fill="#2a2a2a" textLength="8.68" lengthAdjust="spacingAndGlyphs">40</text>
<circle cx="311.57" cy="492" r="2.05" fill="rgba(190,80,230,0.38)"/>
<circle cx="311.57" cy="505.8" r="2.05" fill="rgba(190,80,230,0.38)"/>
<circle cx="311.57" cy="516.6" r="2.05" fill="rgba(190,80,230,0.38)"/>
<circle cx="311.57" cy="520.9" r="2.05" fill="rgba(190,80,230,0.38)"/>
<circle cx="316.15" cy="476.7" r="2.05" fill="rgba(190,80,230,0.38)"/>
<circle cx="316.15" cy="493.6" r="2.05" fill="rgba(190,80,230,0.38)"/>
<circle cx="316.15" cy="502.6" r="2.05" fill="rgba(190,80,230,0.38)"/>
<circle cx="316.15" cy="525.1" r="2.05" fill="rgba(190,80,230,0.38)"/>
<circle cx="316.15" cy="529.9" r="2.05" fill="rgba(190,80,230,0.38)"/>
<circle cx="316.15" cy="541.5" r="2.05" fill="rgba(190,80,230,0.38)"/>
<circle cx="316.15" cy="555.8" r="2.05" fill="rgba(190,80,230,0.38)"/>
<circle cx="316.15" cy="562.2" r="2.05" fill="rgba(190,80,230,0.38)"/>
<circle cx="320.73" cy="478.8" r="2.05" fill="rgba(190,80,230,0.38)"/>
<circle cx="320.73" cy="551.5" r="2.05" fill="rgba(190,80,230,0.38)"/>
<circle cx="320.73" cy="555.6" r="2.05" fill="rgba(190,80,230,0.38)"/>
<circle cx="320.73" cy="558.9" r="2.05" fill="rgba(190,80,230,0.38)"/>
<circle cx="320.73" cy="575.4" r="2.05" fill="rgba(190,80,230,0.38)"/>
<circle cx="325.3" cy="535.7" r="2.05" fill="rgba(190,80,230,0.38)"/>
<circle cx="329.88" cy="479.9" r="2.05" fill="rgba(190,80,230,0.38)"/>
<circle cx="329.88" cy="485.7" r="2.05" fill="rgba(190,80,230,0.38)"/>
<circle cx="329.88" cy="496.2" r="2.05" fill="rgba(190,80,230,0.38)"/>
<circle cx="329.88" cy="532" r="2.05" fill="rgba(190,80,230,0.38)"/>
<circle cx="329.88" cy="560" r="2.05" fill="rgba(190,80,230,0.38)"/>
<circle cx="329.88" cy="566" r="2.05" fill="rgba(190,80,230,0.38)"/>
<circle cx="334.45" cy="470.9" r="2.05" fill="rgba(190,80,230,0.38)"/>
<circle cx="334.45" cy="501" r="2.05" fill="rgba(190,80,230,0.38)"/>
<circle cx="334.45" cy="512.4" r="2.05" fill="rgba(190,80,230,0.38)"/>
<circle cx="334.45" cy="519.3" r="2.05" fill="rgba(190,80,230,0.38)"/>
<circle cx="334.45" cy="522" r="2.05" fill="rgba(190,80,230,0.38)"/>
<circle cx="334.45" cy="534.1" r="2.05" fill="rgba(190,80,230,0.38)"/>
<circle cx="334.45" cy="547.8" r="2.05" fill="rgba(190,80,230,0.38)"/>
<circle cx="339.02" cy="465.4" r="2.05" fill="rgba(190,80,230,0.38)"/>
<circle cx="339.02" cy="471.4" r="2.05" fill="rgba(190,80,230,0.38)"/>
<circle cx="339.02" cy="473.8" r="2.05" fill="rgba(190,80,230,0.38)"/>
<circle cx="339.02" cy="522.5" r="2.05" fill="rgba(190,80,230,0.38)"/>
<circle cx="339.02" cy="535.7" r="2.05" fill="rgba(190,80,230,0.38)"/>
<circle cx="339.02" cy="551.5" r="2.05" fill="rgba(190,80,230,0.38)"/>
<circle cx="339.02" cy="554.7" r="2.05" fill="rgba(190,80,230,0.38)"/>
<circle cx="343.6" cy="479.9" r="2.05" fill="rgba(190,80,230,0.38)"/>
<circle cx="343.6" cy="483.3" r="2.05" fill="rgba(190,80,230,0.38)"/>
<circle cx="343.6" cy="531.4" r="2.05" fill="rgba(190,80,230,0.38)"/>
<circle cx="343.6" cy="552.6" r="2.05" fill="rgba(190,80,230,0.38)"/>
<circle cx="343.6" cy="572.2" r="2.05" fill="rgba(190,80,230,0.38)"/>
<circle cx="348.18" cy="482" r="2.05" fill="rgba(190,80,230,0.38)"/>
<circle cx="348.18" cy="502.6" r="2.05" fill="rgba(190,80,230,0.38)"/>
<circle cx="348.18" cy="509.2" r="2.05" fill="rgba(190,80,230,0.38)"/>
<circle cx="348.18" cy="524" r="2.05" fill="rgba(190,80,230,0.38)"/>
<circle cx="348.18" cy="551.5" r="2.05" fill="rgba(190,80,230,0.38)"/>
<circle cx="348.18" cy="557.4" r="2.05" fill="rgba(190,80,230,0.38)"/>
<circle cx="348.18" cy="570" r="2.05" fill="rgba(190,80,230,0.38)"/>
<circle cx="348.18" cy="583.3" r="2.05" fill="rgba(190,80,230,0.38)"/>
<circle cx="352.75" cy="483" r="2.05" fill="rgba(190,80,230,0.38)"/>
<circle cx="352.75" cy="534.8" r="2.05" fill="rgba(190,80,230,0.38)"/>
<circle cx="352.75" cy="555" r="2.05" fill="rgba(190,80,230,0.38)"/>
<circle cx="352.75" cy="568.5" r="2.05" fill="rgba(190,80,230,0.38)"/>
<circle cx="357.32" cy="470.9" r="2.05" fill="rgba(190,80,230,0.38)"/>
<circle cx="357.32" cy="512.2" r="2.05" fill="rgba(190,80,230,0.38)"/>
<circle cx="357.32" cy="520.7" r="2.05" fill="rgba(190,80,230,0.38)"/>
<circle cx="357.32" cy="540.9" r="2.05" fill="rgba(190,80,230,0.38)"/>
<circle cx="361.9" cy="469.1" r="2.05" fill="rgba(190,80,230,0.38)"/>
<circle cx="361.9" cy="511.5" r="2.05" fill="rgba(190,80,230,0.38)"/>
<circle cx="361.9" cy="526" r="2.05" fill="rgba(190,80,230,0.38)"/>
<circle cx="361.9" cy="543.6" r="2.05" fill="rgba(190,80,230,0.38)"/>
<circle cx="361.9" cy="565.1" r="2.05" fill="rgba(190,80,230,0.38)"/>
<circle cx="361.9" cy="570.9" r="2.05" fill="rgba(190,80,230,0.38)"/>
<circle cx="366.48" cy="480.6" r="2.05" fill="rgba(190,80,230,0.38)"/>
<circle cx="366.48" cy="510.2" r="2.05" fill="rgba(190,80,230,0.38)"/>
<circle cx="366.48" cy="540.9" r="2.05" fill="rgba(190,80,230,0.38)"/>
<circle cx="366.48" cy="552.3" r="2.05" fill="rgba(190,80,230,0.38)"/>
<circle cx="366.48" cy="554.3" r="2.05" fill="rgba(190,80,230,0.38)"/>
<circle cx="366.48" cy="580.6" r="2.05" fill="rgba(190,80,230,0.38)"/>
<circle cx="371.05" cy="475.5" r="2.05" fill="rgba(190,80,230,0.38)"/>
<circle cx="371.05" cy="520.3" r="2.05" fill="rgba(190,80,230,0.38)"/>
<circle cx="371.05" cy="560.4" r="2.05" fill="rgba(190,80,230,0.38)"/>
<circle cx="371.05" cy="582.6" r="2.05" fill="rgba(190,80,230,0.38)"/>
<circle cx="375.62" cy="479.5" r="2.05" fill="rgba(190,80,230,0.38)"/>
<circle cx="375.62" cy="553.6" r="2.05" fill="rgba(190,80,230,0.38)"/>
<circle cx="375.62" cy="573.2" r="2.05" fill="rgba(190,80,230,0.38)"/>
<circle cx="375.62" cy="583.3" r="2.05" fill="rgba(190,80,230,0.38)"/>
<circle cx="380.2" cy="548.5" r="2.05" fill="rgba(190,80,230,0.38)"/>
<circle cx="380.2" cy="553.6" r="2.05" fill="rgba(190,80,230,0.38)"/>
<circle cx="384.77" cy="533.7" r="2.05" fill="rgba(190,80,230,0.38)"/>
<circle cx="384.77" cy="554.3" r="2.05" fill="rgba(190,80,230,0.38)"/>
<circle cx="389.35" cy="548.5" r="2.05" fill="rgba(190,80,230,0.38)"/>
<circle cx="393.93" cy="557.7" r="2.05" fill="rgba(190,80,230,0.38)"/>
<circle cx="398.5" cy="472.5" r="2.05" fill="rgba(190,80,230,0.38)"/>
<circle cx="398.5" cy="512.2" r="2.05" fill="rgba(190,80,230,0.38)"/>
<circle cx="403.07" cy="474.5" r="2.05" fill="rgba(190,80,230,0.38)"/>
<circle cx="403.07" cy="479.9" r="2.05" fill="rgba(190,80,230,0.38)"/>
<circle cx="407.65" cy="475.5" r="2.05" fill="rgba(190,80,230,0.38)"/>
<circle cx="407.65" cy="486" r="2.05" fill="rgba(190,80,230,0.38)"/>
<circle cx="407.65" cy="520.8" r="2.05" fill="rgba(190,80,230,0.38)"/>
<circle cx="407.65" cy="546.2" r="2.05" fill="rgba(190,80,230,0.38)"/>
<circle cx="412.23" cy="546.8" r="2.05" fill="rgba(190,80,230,0.38)"/>
<circle cx="416.8" cy="497" r="2.05" fill="rgba(190,80,230,0.38)"/>
<circle cx="430.52" cy="535.9" r="2.05" fill="rgba(190,80,230,0.38)"/>
<circle cx="444.25" cy="497.9" r="2.05" fill="rgba(190,80,230,0.38)"/>
<circle cx="366.48" cy="460.4" r="2.05" fill="rgba(190,80,230,0.38)"/>
<circle cx="393.93" cy="460.4" r="2.05" fill="rgba(190,80,230,0.38)"/>
<circle cx="307" cy="470.9" r="2.05" fill="rgba(170,60,215,0.6)"/>
<circle cx="307" cy="560.6" r="2.05" fill="rgba(170,60,215,0.6)"/>
<circle cx="307" cy="574.3" r="2.05" fill="rgba(170,60,215,0.6)"/>
<circle cx="316.15" cy="496.8" r="2.05" fill="rgba(170,60,215,0.6)"/>
<circle cx="316.15" cy="569" r="2.05" fill="rgba(170,60,215,0.6)"/>
<circle cx="325.3" cy="554.8" r="2.05" fill="rgba(170,60,215,0.6)"/>
<circle cx="339.02" cy="562.7" r="2.05" fill="rgba(170,60,215,0.6)"/>
<circle cx="348.18" cy="567" r="2.05" fill="rgba(170,60,215,0.6)"/>
<circle cx="352.75" cy="512" r="2.05" fill="rgba(170,60,215,0.6)"/>
<circle cx="361.9" cy="488.6" r="2.05" fill="rgba(170,60,215,0.6)"/>
<circle cx="361.9" cy="503.5" r="2.05" fill="rgba(170,60,215,0.6)"/>
<circle cx="361.9" cy="538.8" r="2.05" fill="rgba(170,60,215,0.6)"/>
<circle cx="371.05" cy="555.3" r="2.05" fill="rgba(170,60,215,0.6)"/>
<circle cx="375.62" cy="503.5" r="2.05" fill="rgba(170,60,215,0.6)"/>
<circle cx="375.62" cy="530.1" r="2.05" fill="rgba(170,60,215,0.6)"/>
<circle cx="389.35" cy="477.2" r="2.05" fill="rgba(90,90,90,0.45)"/>
<circle cx="412.23" cy="460.4" r="2.05" fill="rgba(90,90,90,0.45)"/>
<circle cx="307" cy="463" r="2.05" fill="rgba(62,62,62,0.78)"/>
<circle cx="307" cy="465.4" r="2.05" fill="rgba(62,62,62,0.78)"/>
<circle cx="307" cy="467.9" r="2.05" fill="rgba(62,62,62,0.78)"/>
<circle cx="307" cy="470.4" r="2.05" fill="rgba(62,62,62,0.78)"/>
<circle cx="307" cy="472.8" r="2.05" fill="rgba(62,62,62,0.78)"/>
<circle cx="307" cy="475.2" r="2.05" fill="rgba(62,62,62,0.78)"/>
<circle cx="307" cy="477.7" r="2.05" fill="rgba(62,62,62,0.78)"/>
<circle cx="307" cy="480.1" r="2.05" fill="rgba(62,62,62,0.78)"/>
<circle cx="307" cy="482.6" r="2.05" fill="rgba(62,62,62,0.78)"/>
<circle cx="307" cy="485.1" r="2.05" fill="rgba(62,62,62,0.78)"/>
<circle cx="307" cy="487.5" r="2.05" fill="rgba(62,62,62,0.78)"/>
<circle cx="307" cy="489.9" r="2.05" fill="rgba(62,62,62,0.78)"/>
<circle cx="307" cy="492.4" r="2.05" fill="rgba(62,62,62,0.78)"/>
<circle cx="307" cy="494.9" r="2.05" fill="rgba(62,62,62,0.78)"/>
<circle cx="307" cy="497.3" r="2.05" fill="rgba(62,62,62,0.78)"/>
<circle cx="307" cy="499.8" r="2.05" fill="rgba(62,62,62,0.78)"/>
<circle cx="307" cy="502.2" r="2.05" fill="rgba(62,62,62,0.78)"/>
<circle cx="307" cy="504.6" r="2.05" fill="rgba(62,62,62,0.78)"/>
<circle cx="307" cy="507.1" r="2.05" fill="rgba(62,62,62,0.78)"/>
<circle cx="307" cy="509.6" r="2.05" fill="rgba(62,62,62,0.78)"/>
<circle cx="307" cy="512" r="2.05" fill="rgba(62,62,62,0.78)"/>
<circle cx="307" cy="514.5" r="2.05" fill="rgba(62,62,62,0.78)"/>
<circle cx="307" cy="516.9" r="2.05" fill="rgba(62,62,62,0.78)"/>
<circle cx="307" cy="519.4" r="2.05" fill="rgba(62,62,62,0.78)"/>
<circle cx="307" cy="521.8" r="2.05" fill="rgba(62,62,62,0.78)"/>
<circle cx="307" cy="524.2" r="2.05" fill="rgba(62,62,62,0.78)"/>
<circle cx="307" cy="526.7" r="2.05" fill="rgba(62,62,62,0.78)"/>
<circle cx="307" cy="529.1" r="2.05" fill="rgba(62,62,62,0.78)"/>
<circle cx="307" cy="531.6" r="2.05" fill="rgba(62,62,62,0.78)"/>
<circle cx="307" cy="534" r="2.05" fill="rgba(62,62,62,0.78)"/>
<circle cx="307" cy="536.5" r="2.05" fill="rgba(62,62,62,0.78)"/>
<circle cx="307" cy="539" r="2.05" fill="rgba(62,62,62,0.78)"/>
<circle cx="307" cy="541.4" r="2.05" fill="rgba(62,62,62,0.78)"/>
<circle cx="307" cy="543.9" r="2.05" fill="rgba(62,62,62,0.78)"/>
<circle cx="307" cy="546.3" r="2.05" fill="rgba(62,62,62,0.78)"/>
<circle cx="307" cy="548.8" r="2.05" fill="rgba(62,62,62,0.78)"/>
<circle cx="307" cy="551.2" r="2.05" fill="rgba(62,62,62,0.78)"/>
<circle cx="307" cy="553.6" r="2.05" fill="rgba(62,62,62,0.78)"/>
<circle cx="307" cy="556.1" r="2.05" fill="rgba(62,62,62,0.78)"/>
<circle cx="307" cy="558.5" r="2.05" fill="rgba(62,62,62,0.78)"/>
<circle cx="307" cy="561" r="2.05" fill="rgba(62,62,62,0.78)"/>
<circle cx="307" cy="563.5" r="2.05" fill="rgba(62,62,62,0.78)"/>
<circle cx="307" cy="565.9" r="2.05" fill="rgba(62,62,62,0.78)"/>
<circle cx="307" cy="568.4" r="2.05" fill="rgba(62,62,62,0.78)"/>
<circle cx="307" cy="570.8" r="2.05" fill="rgba(62,62,62,0.78)"/>
<circle cx="307" cy="573.2" r="2.05" fill="rgba(62,62,62,0.78)"/>
<circle cx="307" cy="575.7" r="2.05" fill="rgba(62,62,62,0.78)"/>
<circle cx="307" cy="578.1" r="2.05" fill="rgba(62,62,62,0.78)"/>
<circle cx="307" cy="580.6" r="2.05" fill="rgba(62,62,62,0.78)"/>
<circle cx="307" cy="583" r="2.05" fill="rgba(62,62,62,0.78)"/>
<circle cx="307" cy="585.5" r="2.05" fill="rgba(62,62,62,0.78)"/>
<circle cx="311.57" cy="479.1" r="2.05" fill="rgba(62,62,62,0.78)"/>
<circle cx="311.57" cy="512.9" r="2.05" fill="rgba(62,62,62,0.78)"/>
<circle cx="311.57" cy="526.2" r="2.05" fill="rgba(62,62,62,0.78)"/>
<circle cx="311.57" cy="528.8" r="2.05" fill="rgba(62,62,62,0.78)"/>
<circle cx="311.57" cy="531.4" r="2.05" fill="rgba(62,62,62,0.78)"/>
<circle cx="311.57" cy="552.6" r="2.05" fill="rgba(62,62,62,0.78)"/>
<circle cx="311.57" cy="577" r="2.05" fill="rgba(62,62,62,0.78)"/>
<circle cx="316.15" cy="467.7" r="2.05" fill="rgba(62,62,62,0.78)"/>
<circle cx="316.15" cy="483.3" r="2.05" fill="rgba(62,62,62,0.78)"/>
<circle cx="316.15" cy="516.1" r="2.05" fill="rgba(62,62,62,0.78)"/>
<circle cx="320.73" cy="465.6" r="2.05" fill="rgba(62,62,62,0.78)"/>
<circle cx="320.73" cy="492.2" r="2.05" fill="rgba(62,62,62,0.78)"/>
<circle cx="320.73" cy="495.7" r="2.05" fill="rgba(62,62,62,0.78)"/>
<circle cx="320.73" cy="521.1" r="2.05" fill="rgba(62,62,62,0.78)"/>
<circle cx="320.73" cy="534.1" r="2.05" fill="rgba(62,62,62,0.78)"/>
<circle cx="320.73" cy="539.4" r="2.05" fill="rgba(62,62,62,0.78)"/>
<circle cx="325.3" cy="465.6" r="2.05" fill="rgba(62,62,62,0.78)"/>
<circle cx="325.3" cy="467.5" r="2.05" fill="rgba(62,62,62,0.78)"/>
<circle cx="325.3" cy="479.3" r="2.05" fill="rgba(62,62,62,0.78)"/>
<circle cx="325.3" cy="491" r="2.05" fill="rgba(62,62,62,0.78)"/>
<circle cx="325.3" cy="521.4" r="2.05" fill="rgba(62,62,62,0.78)"/>
<circle cx="325.3" cy="561.6" r="2.05" fill="rgba(62,62,62,0.78)"/>
<circle cx="325.3" cy="573.8" r="2.05" fill="rgba(62,62,62,0.78)"/>
<circle cx="329.88" cy="523" r="2.05" fill="rgba(62,62,62,0.78)"/>
<circle cx="329.88" cy="528.3" r="2.05" fill="rgba(62,62,62,0.78)"/>
<circle cx="329.88" cy="538.8" r="2.05" fill="rgba(62,62,62,0.78)"/>
<circle cx="329.88" cy="541" r="2.05" fill="rgba(62,62,62,0.78)"/>
<circle cx="329.88" cy="543" r="2.05" fill="rgba(62,62,62,0.78)"/>
<circle cx="329.88" cy="545" r="2.05" fill="rgba(62,62,62,0.78)"/>
<circle cx="329.88" cy="547" r="2.05" fill="rgba(62,62,62,0.78)"/>
<circle cx="329.88" cy="549.4" r="2.05" fill="rgba(62,62,62,0.78)"/>
<circle cx="329.88" cy="554.2" r="2.05" fill="rgba(62,62,62,0.78)"/>
<circle cx="334.45" cy="487.6" r="2.05" fill="rgba(62,62,62,0.78)"/>
<circle cx="334.45" cy="508.2" r="2.05" fill="rgba(62,62,62,0.78)"/>
<circle cx="334.45" cy="539.7" r="2.05" fill="rgba(62,62,62,0.78)"/>
<circle cx="334.45" cy="558.2" r="2.05" fill="rgba(62,62,62,0.78)"/>
<circle cx="334.45" cy="574.5" r="2.05" fill="rgba(62,62,62,0.78)"/>
<circle cx="339.02" cy="479.1" r="2.05" fill="rgba(62,62,62,0.78)"/>
<circle cx="339.02" cy="492.5" r="2.05" fill="rgba(62,62,62,0.78)"/>
<circle cx="339.02" cy="541" r="2.05" fill="rgba(62,62,62,0.78)"/>
<circle cx="339.02" cy="546.8" r="2.05" fill="rgba(62,62,62,0.78)"/>
<circle cx="343.6" cy="503.7" r="2.05" fill="rgba(62,62,62,0.78)"/>
<circle cx="343.6" cy="516.1" r="2.05" fill="rgba(62,62,62,0.78)"/>
<circle cx="348.18" cy="477.2" r="2.05" fill="rgba(62,62,62,0.78)"/>
<circle cx="348.18" cy="505.2" r="2.05" fill="rgba(62,62,62,0.78)"/>
<circle cx="348.18" cy="530.4" r="2.05" fill="rgba(62,62,62,0.78)"/>
<circle cx="348.18" cy="561.4" r="2.05" fill="rgba(62,62,62,0.78)"/>
<circle cx="352.75" cy="545" r="2.05" fill="rgba(62,62,62,0.78)"/>
<circle cx="357.32" cy="505.9" r="2.05" fill="rgba(62,62,62,0.78)"/>
<circle cx="357.32" cy="536.8" r="2.05" fill="rgba(62,62,62,0.78)"/>
<circle cx="357.32" cy="548.5" r="2.05" fill="rgba(62,62,62,0.78)"/>
<circle cx="361.9" cy="586" r="2.05" fill="rgba(62,62,62,0.78)"/>
<circle cx="366.48" cy="471.4" r="2.05" fill="rgba(62,62,62,0.78)"/>
<circle cx="366.48" cy="499.1" r="2.05" fill="rgba(62,62,62,0.78)"/>
<circle cx="366.48" cy="534.1" r="2.05" fill="rgba(62,62,62,0.78)"/>
<circle cx="366.48" cy="558.8" r="2.05" fill="rgba(62,62,62,0.78)"/>
<circle cx="371.05" cy="470.9" r="2.05" fill="rgba(62,62,62,0.78)"/>
<circle cx="371.05" cy="513.5" r="2.05" fill="rgba(62,62,62,0.78)"/>
<circle cx="371.05" cy="568.2" r="2.05" fill="rgba(62,62,62,0.78)"/>
<circle cx="375.62" cy="487.6" r="2.05" fill="rgba(62,62,62,0.78)"/>
<circle cx="375.62" cy="532.8" r="2.05" fill="rgba(62,62,62,0.78)"/>
<circle cx="380.2" cy="566" r="2.05" fill="rgba(62,62,62,0.78)"/>
<circle cx="389.35" cy="498" r="2.05" fill="rgba(62,62,62,0.78)"/>
<circle cx="389.35" cy="566.4" r="2.05" fill="rgba(62,62,62,0.78)"/>
<circle cx="393.93" cy="578.1" r="2.05" fill="rgba(62,62,62,0.78)"/>
<circle cx="398.5" cy="517.2" r="2.05" fill="rgba(62,62,62,0.78)"/>
<circle cx="398.5" cy="553.4" r="2.05" fill="rgba(62,62,62,0.78)"/>
<circle cx="403.07" cy="487.6" r="2.05" fill="rgba(62,62,62,0.78)"/>
<circle cx="412.23" cy="558.9" r="2.05" fill="rgba(62,62,62,0.78)"/>
<circle cx="435.1" cy="586.1" r="2.05" fill="rgba(62,62,62,0.78)"/>
<circle cx="311.57" cy="460.4" r="2.05" fill="rgba(62,62,62,0.78)"/>
<circle cx="334.45" cy="460.4" r="2.05" fill="rgba(62,62,62,0.78)"/>
<circle cx="348.18" cy="460.4" r="2.05" fill="rgba(105,60,120,0.9)"/>
<circle cx="371.05" cy="460.4" r="2.05" fill="rgba(62,62,62,0.78)"/>
<circle cx="380.2" cy="460.4" r="2.05" fill="rgba(62,62,62,0.78)"/>
<circle cx="398.5" cy="460.4" r="2.05" fill="rgba(62,62,62,0.78)"/>
<circle cx="403.07" cy="460.4" r="2.05" fill="rgba(62,62,62,0.78)"/>
<circle cx="407.65" cy="460.4" r="2.05" fill="rgba(62,62,62,0.78)"/>
<circle cx="430.52" cy="460.4" r="2.05" fill="rgba(62,62,62,0.78)"/>
<circle cx="448.83" cy="460.4" r="2.05" fill="rgba(62,62,62,0.78)"/>
<circle cx="307" cy="533.5" r="2.05" fill="rgba(165,50,215,0.85)"/>
<circle cx="307" cy="536" r="2.05" fill="rgba(165,50,215,0.85)"/>
<circle cx="307" cy="474.7" r="2.05" fill="#14e614"/>
<circle cx="307" cy="487" r="2.05" fill="#14e614"/>
<circle cx="307" cy="489.5" r="2.05" fill="#14e614"/>
<circle cx="307" cy="491.5" r="2.05" fill="#14e614"/>
<circle cx="307" cy="495.4" r="2.05" fill="#14e614"/>
<circle cx="307" cy="506.7" r="2.05" fill="#14e614"/>
<circle cx="307" cy="509" r="2.05" fill="#14e614"/>
<circle cx="307" cy="511.2" r="2.05" fill="#14e614"/>
<circle cx="307" cy="515.7" r="2.05" fill="#14e614"/>
<circle cx="307" cy="518.5" r="2.05" fill="#14e614"/>
<circle cx="307" cy="521.5" r="2.05" fill="#14e614"/>
<circle cx="307" cy="529.8" r="2.05" fill="#14e614"/>
<circle cx="307" cy="539.5" r="2.05" fill="#14e614"/>
<circle cx="307" cy="541.8" r="2.05" fill="#14e614"/>
<circle cx="307" cy="549.5" r="2.05" fill="#14e614"/>
<circle cx="307" cy="552.5" r="2.05" fill="#14e614"/>
<circle cx="307" cy="555.5" r="2.05" fill="#14e614"/>
<circle cx="307" cy="558" r="2.05" fill="#14e614"/>
<circle cx="307" cy="563.5" r="2.05" fill="#14e614"/>
<circle cx="307" cy="566.5" r="2.05" fill="#14e614"/>
<circle cx="307" cy="569.5" r="2.05" fill="#14e614"/>
<circle cx="307" cy="571.5" r="2.05" fill="#14e614"/>
<circle cx="307" cy="579" r="2.05" fill="#14e614"/>
<circle cx="307" cy="582" r="2.05" fill="#14e614"/>
<circle cx="307" cy="585" r="2.05" fill="#14e614"/>
<circle cx="307" cy="587" r="2.05" fill="#14e614"/>
<circle cx="311.57" cy="482" r="2.05" fill="#14e614"/>
<circle cx="311.57" cy="535.9" r="2.05" fill="#14e614"/>
<circle cx="311.57" cy="568" r="2.05" fill="#14e614"/>
<circle cx="316.15" cy="480.4" r="2.05" fill="#14e614"/>
<circle cx="316.15" cy="500.7" r="2.05" fill="#14e614"/>
<circle cx="316.15" cy="536.2" r="2.05" fill="#14e614"/>
<circle cx="316.15" cy="545.7" r="2.05" fill="#14e614"/>
<circle cx="320.73" cy="526.7" r="2.05" fill="#14e614"/>
<circle cx="320.73" cy="540.4" r="2.05" fill="#14e614"/>
<circle cx="320.73" cy="546" r="2.05" fill="#14e614"/>
<circle cx="325.3" cy="494.7" r="2.05" fill="#14e614"/>
<circle cx="325.3" cy="499.4" r="2.05" fill="#14e614"/>
<circle cx="325.3" cy="502" r="2.05" fill="#14e614"/>
<circle cx="325.3" cy="519.3" r="2.05" fill="#14e614"/>
<circle cx="325.3" cy="551" r="2.05" fill="#14e614"/>
<circle cx="325.3" cy="586.5" r="2.05" fill="#14e614"/>
<circle cx="329.88" cy="535.9" r="2.05" fill="#14e614"/>
<circle cx="334.45" cy="483.3" r="2.05" fill="#14e614"/>
<circle cx="334.45" cy="528.8" r="2.05" fill="#14e614"/>
<circle cx="334.45" cy="530.4" r="2.05" fill="#14e614"/>
<circle cx="339.02" cy="507" r="2.05" fill="#14e614"/>
<circle cx="343.6" cy="497.8" r="2.05" fill="#14e614"/>
<circle cx="343.6" cy="560.4" r="2.05" fill="#14e614"/>
<circle cx="348.18" cy="492.2" r="2.05" fill="#14e614"/>
<circle cx="348.18" cy="533.3" r="2.05" fill="#14e614"/>
<circle cx="361.9" cy="483.5" r="2.05" fill="#14e614"/>
<circle cx="393.93" cy="499.7" r="2.05" fill="#14e614"/>
<circle cx="403.07" cy="527.4" r="2.05" fill="#14e614"/>
<circle cx="407.65" cy="466.4" r="2.05" fill="#14e614"/>
<circle cx="425.95" cy="575" r="2.05" fill="#14e614"/>
<circle cx="444.25" cy="542.8" r="2.05" fill="#14e614"/>
<circle cx="307" cy="460.4" r="2.05" fill="#14e614"/>
<circle cx="316.15" cy="460.4" r="2.05" fill="#14e614"/>
<circle cx="320.73" cy="460.4" r="2.05" fill="#14e614"/>
<circle cx="325.3" cy="460.4" r="2.05" fill="#14e614"/>
<circle cx="329.88" cy="460.4" r="2.05" fill="#14e614"/>
<circle cx="339.02" cy="460.4" r="2.05" fill="#14e614"/>
<circle cx="343.6" cy="460.4" r="2.05" fill="#14e614"/>
<circle cx="352.75" cy="460.4" r="2.05" fill="#14e614"/>
<circle cx="357.32" cy="460.4" r="2.05" fill="#14e614"/>
<circle cx="361.9" cy="460.4" r="2.05" fill="#14e614"/>
<circle cx="375.62" cy="460.4" r="2.05" fill="#14e614"/>
<circle cx="384.77" cy="460.4" r="2.05" fill="#14e614"/>
<circle cx="389.35" cy="460.4" r="2.05" fill="#14e614"/>
<circle cx="439.68" cy="460.4" r="2.05" fill="#14e614"/>
<line x1="352.75" y1="457.2" x2="352.75" y2="586.3" stroke="#111" stroke-width="1.7" stroke-dasharray="4 4"/>
<line x1="307" y1="576.9" x2="490" y2="576.9" stroke="#111" stroke-width="1.7" stroke-dasharray="4 4"/>
<rect x="314" y="463.5" width="18.5" height="17" fill="rgba(255,255,255,0.6)"/>
<rect x="375.5" y="463.5" width="18.5" height="17" fill="rgba(255,255,255,0.6)"/>
<text x="317" y="475.7" font-size="9.2" text-anchor="start" font-weight="bold" fill="#111">Q2</text>
<text x="378.2" y="475.7" font-size="9.2" text-anchor="start" font-weight="bold" fill="#111">Q3</text>
<text x="317" y="585" font-size="9.2" text-anchor="start" font-weight="bold" fill="#111">Q1</text>
<text x="378.4" y="585.2" font-size="9.2" text-anchor="start" font-weight="bold" fill="#111">Q4</text>
<text x="274.8" y="455.6" font-size="11.8" text-anchor="start" font-weight="bold" fill="#111">J</text>
<text transform="translate(282.4,523.7) rotate(-90)" font-size="10.2" text-anchor="middle" fill="#1a1a1a" stroke="#1a1a1a" stroke-width="0.2" textLength="90.6" lengthAdjust="spacingAndGlyphs">Min distance to bone (&#956;m)</text>
<text x="331.6" y="612.8" font-size="10.2" text-anchor="start" font-weight="normal" fill="#1a1a1a" textLength="134.1" lengthAdjust="spacingAndGlyphs" stroke="#1a1a1a" stroke-width="0.2">Min distance to entire vasculature (&#956;m)</text>
<rect x="405.2" y="462.1" width="88" height="70.7" fill="rgba(255,255,255,0.6)"/>
<text x="431.5" y="476.8" font-size="9.4" text-anchor="middle" font-weight="bold" fill="#1cb81c">LR</text>
<text x="450.6" y="470.6" font-size="9.6" text-anchor="middle" font-weight="normal" fill="#444">non-</text>
<text x="450.6" y="481.2" font-size="9.6" text-anchor="middle" font-weight="normal" fill="#444">LR</text>
<text x="471.5" y="476.8" font-size="9.4" text-anchor="middle" font-weight="bold" fill="#b540e0">RD</text>
<text x="406.7" y="493.7" font-size="9.8" text-anchor="start" font-weight="bold" fill="#111" textLength="11.8" lengthAdjust="spacingAndGlyphs">Q1</text>
<text x="431.5" y="493.7" font-size="9.8" text-anchor="middle" font-weight="bold" fill="#18bb18">3</text>
<text x="450" y="493.7" font-size="9.8" text-anchor="middle" font-weight="normal" fill="#444">1</text>
<text x="471.5" y="493.7" font-size="9.8" text-anchor="middle" font-weight="bold" fill="#b540e0">2</text>
<text x="484.2" y="493.7" font-size="8.4" text-anchor="start" font-weight="bold" fill="#111">ns</text>
<text x="406.7" y="505.9" font-size="9.8" text-anchor="start" font-weight="bold" fill="#111" textLength="11.8" lengthAdjust="spacingAndGlyphs">Q2</text>
<text x="431.5" y="505.9" font-size="9.8" text-anchor="middle" font-weight="bold" fill="#18bb18">80</text>
<text x="450" y="505.9" font-size="9.8" text-anchor="middle" font-weight="normal" fill="#444">78</text>
<text x="471.5" y="505.9" font-size="9.8" text-anchor="middle" font-weight="bold" fill="#b540e0">77</text>
<text x="484.2" y="505.9" font-size="8.4" text-anchor="start" font-weight="bold" fill="#111">ns</text>
<text x="406.7" y="518" font-size="9.8" text-anchor="start" font-weight="bold" fill="#111" textLength="11.8" lengthAdjust="spacingAndGlyphs">Q3</text>
<text x="431.5" y="518" font-size="9.8" text-anchor="middle" font-weight="bold" fill="#18bb18">17</text>
<text x="450" y="518" font-size="9.8" text-anchor="middle" font-weight="normal" fill="#444">20</text>
<text x="471.5" y="518" font-size="9.8" text-anchor="middle" font-weight="bold" fill="#b540e0">20</text>
<text x="484.2" y="518" font-size="8.4" text-anchor="start" font-weight="bold" fill="#111">ns</text>
<text x="406.7" y="529.8" font-size="9.8" text-anchor="start" font-weight="bold" fill="#111" textLength="11.8" lengthAdjust="spacingAndGlyphs">Q4</text>
<text x="431.5" y="529.8" font-size="9.8" text-anchor="middle" font-weight="bold" fill="#18bb18">0</text>
<text x="450" y="529.8" font-size="9.8" text-anchor="middle" font-weight="normal" fill="#444">1</text>
<text x="471.5" y="529.8" font-size="9.8" text-anchor="middle" font-weight="bold" fill="#b540e0">1</text>
<text x="484.2" y="529.8" font-size="8.4" text-anchor="start" font-weight="bold" fill="#111">ns</text>
<rect x="0.6" y="0.6" width="518.8" height="621.8" fill="none" stroke="#000" stroke-width="1.3"/>
</svg>
</body></html>
